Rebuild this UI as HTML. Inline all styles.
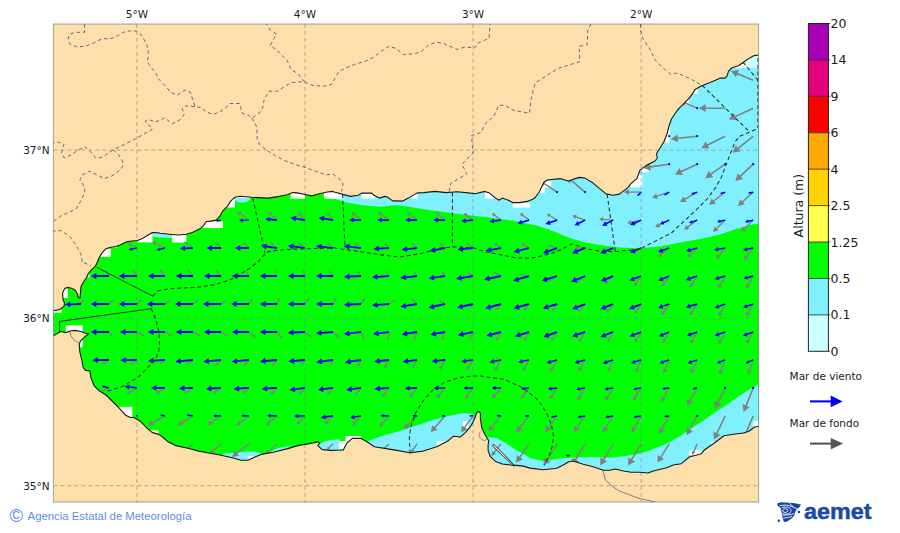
<!DOCTYPE html><html><head><meta charset="utf-8"><style>html,body{margin:0;padding:0;background:#fff;width:900px;height:533px;overflow:hidden}svg{display:block}</style></head><body>
<svg width="900" height="533" viewBox="0 0 900 533" font-family="DejaVu Sans, Liberation Sans, sans-serif">
<defs><clipPath id="mc"><rect x="53.4" y="24.0" width="705.2" height="478.1"/></clipPath></defs>
<g clip-path="url(#mc)">
<rect x="53.4" y="24.0" width="705.2" height="478.1" fill="#FDDFAB"/>
<polygon points="53.4,310.8 58.4,309.9 61.3,308.5 64.1,306.1 64.5,302.8 63.1,300.0 62.7,295.3 62.7,292.5 65.0,288.3 67.4,287.4 71.6,288.3 75.3,290.2 77.2,293.5 78.6,297.7 80.0,298.1 80.5,292.5 81.0,286.4 83.3,282.2 86.6,277.5 88.3,273.5 91.6,269.6 95.3,266.3 97.2,262.5 99.1,257.8 101.9,253.1 105.6,248.9 109.4,247.5 116.0,246.6 120.6,244.7 126.3,241.9 131.9,241.0 137.5,240.5 141.3,239.1 146.9,235.8 152.5,232.5 158.2,232.7 160.0,233.3 169.4,234.2 178.8,235.0 186.3,234.2 192.8,232.3 200.3,228.6 203.2,225.8 206.4,221.5 210.7,221.1 216.3,220.1 220.0,215.9 222.9,210.8 227.5,206.1 231.3,200.4 235.0,197.2 240.0,196.3 251.7,197.3 268.3,198.1 279.4,196.4 287.2,194.8 292.8,192.6 297.2,192.9 303.9,194.2 311.7,195.9 319.4,193.7 327.2,192.0 332.8,191.4 335.0,192.2 342.8,194.4 350.6,196.4 358.3,195.3 361.7,193.1 371.7,193.1 373.9,195.3 379.4,198.1 385.0,196.4 387.2,197.0 392.8,200.9 402.8,201.1 408.3,198.1 417.2,192.9 423.9,192.6 435.0,191.4 446.1,192.6 457.2,191.8 468.3,192.9 475.0,193.7 485.0,191.4 489.4,193.1 495.0,197.6 498.9,200.3 502.2,198.1 507.2,199.8 512.8,202.6 519.4,202.6 527.2,201.4 532.8,199.2 535.0,197.8 539.4,191.7 543.9,182.2 547.2,180.0 557.2,178.9 561.7,178.9 568.3,181.1 572.8,179.4 579.4,177.4 585.0,178.1 592.8,182.8 599.4,188.3 606.1,193.9 612.8,195.2 619.4,194.1 623.9,190.6 627.5,188.0 631.0,183.6 637.0,178.3 640.0,170.1 646.0,165.6 655.0,161.0 657.3,158.0 656.5,153.5 659.5,149.0 664.0,141.5 667.0,134.0 669.3,125.0 671.5,119.0 674.5,114.5 677.5,110.0 680.0,107.4 684.5,102.9 689.0,98.4 692.4,93.9 695.2,89.4 700.2,86.6 707.0,83.7 713.7,80.9 720.5,78.1 725.0,78.1 727.2,75.9 728.4,71.4 731.7,68.0 738.5,65.7 744.1,61.8 749.7,57.9 754.2,55.6 759.0,55.0 759.6,55.5 759.6,425.3 759.0,426.3 754.7,427.0 749.3,431.0 744.0,433.0 733.3,434.3 724.0,435.7 713.3,443.7 704.0,450.3 701.3,453.7 689.3,457.0 681.3,463.7 673.3,465.0 666.7,467.7 653.3,471.0 648.0,473.0 640.0,472.3 631.3,472.3 623.3,471.0 615.3,469.0 610.0,470.3 603.3,470.3 594.0,467.0 583.3,464.3 572.7,461.0 568.7,461.7 563.3,465.0 556.7,468.3 543.3,469.7 530.0,468.1 523.3,466.1 516.3,465.4 510.6,465.0 502.2,464.0 495.2,461.2 490.2,456.3 488.1,450.6 488.1,445.0 488.8,440.8 485.3,435.2 481.8,428.1 480.4,418.3 480.4,414.1 479.9,412.3 478.6,411.6 477.2,412.3 476.2,414.1 474.8,418.3 471.3,425.3 465.6,432.3 460.0,437.3 458.9,436.7 453.3,436.2 447.8,441.1 436.7,446.7 423.3,451.1 410.0,452.7 396.7,450.4 387.8,448.9 374.4,446.7 367.8,442.2 361.1,438.4 352.2,438.4 346.7,443.3 343.3,450.0 331.1,450.4 322.2,449.6 317.8,445.6 319.6,443.3 317.8,441.6 313.3,442.9 297.8,445.6 286.7,448.9 273.3,452.2 261.1,454.4 254.4,457.2 247.8,460.3 241.1,460.3 232.2,457.8 221.1,455.2 210.0,453.3 198.9,451.1 187.8,448.3 175.6,445.6 167.8,441.7 162.0,436.5 158.6,434.4 152.0,432.4 146.8,427.8 140.2,421.2 134.9,418.0 129.7,417.3 125.7,415.3 119.2,408.1 112.6,401.5 106.0,395.0 99.5,391.0 94.2,385.8 90.9,377.9 89.9,370.9 85.4,370.4 83.2,367.5 82.0,360.8 79.8,351.8 79.2,345.0 80.3,341.1 83.2,338.3 86.5,335.5 88.8,333.8 85.4,333.2 80.9,331.5 75.3,330.4 69.6,331.0 66.3,332.6 64.0,332.1 60.6,331.5 55.0,334.9 53.4,336.1 52.4,336.1 52.4,310.5" fill="#00FF00"/>
<clipPath id="sc"><polygon points="53.4,310.8 58.4,309.9 61.3,308.5 64.1,306.1 64.5,302.8 63.1,300.0 62.7,295.3 62.7,292.5 65.0,288.3 67.4,287.4 71.6,288.3 75.3,290.2 77.2,293.5 78.6,297.7 80.0,298.1 80.5,292.5 81.0,286.4 83.3,282.2 86.6,277.5 88.3,273.5 91.6,269.6 95.3,266.3 97.2,262.5 99.1,257.8 101.9,253.1 105.6,248.9 109.4,247.5 116.0,246.6 120.6,244.7 126.3,241.9 131.9,241.0 137.5,240.5 141.3,239.1 146.9,235.8 152.5,232.5 158.2,232.7 160.0,233.3 169.4,234.2 178.8,235.0 186.3,234.2 192.8,232.3 200.3,228.6 203.2,225.8 206.4,221.5 210.7,221.1 216.3,220.1 220.0,215.9 222.9,210.8 227.5,206.1 231.3,200.4 235.0,197.2 240.0,196.3 251.7,197.3 268.3,198.1 279.4,196.4 287.2,194.8 292.8,192.6 297.2,192.9 303.9,194.2 311.7,195.9 319.4,193.7 327.2,192.0 332.8,191.4 335.0,192.2 342.8,194.4 350.6,196.4 358.3,195.3 361.7,193.1 371.7,193.1 373.9,195.3 379.4,198.1 385.0,196.4 387.2,197.0 392.8,200.9 402.8,201.1 408.3,198.1 417.2,192.9 423.9,192.6 435.0,191.4 446.1,192.6 457.2,191.8 468.3,192.9 475.0,193.7 485.0,191.4 489.4,193.1 495.0,197.6 498.9,200.3 502.2,198.1 507.2,199.8 512.8,202.6 519.4,202.6 527.2,201.4 532.8,199.2 535.0,197.8 539.4,191.7 543.9,182.2 547.2,180.0 557.2,178.9 561.7,178.9 568.3,181.1 572.8,179.4 579.4,177.4 585.0,178.1 592.8,182.8 599.4,188.3 606.1,193.9 612.8,195.2 619.4,194.1 623.9,190.6 627.5,188.0 631.0,183.6 637.0,178.3 640.0,170.1 646.0,165.6 655.0,161.0 657.3,158.0 656.5,153.5 659.5,149.0 664.0,141.5 667.0,134.0 669.3,125.0 671.5,119.0 674.5,114.5 677.5,110.0 680.0,107.4 684.5,102.9 689.0,98.4 692.4,93.9 695.2,89.4 700.2,86.6 707.0,83.7 713.7,80.9 720.5,78.1 725.0,78.1 727.2,75.9 728.4,71.4 731.7,68.0 738.5,65.7 744.1,61.8 749.7,57.9 754.2,55.6 759.0,55.0 759.6,55.5 759.6,425.3 759.0,426.3 754.7,427.0 749.3,431.0 744.0,433.0 733.3,434.3 724.0,435.7 713.3,443.7 704.0,450.3 701.3,453.7 689.3,457.0 681.3,463.7 673.3,465.0 666.7,467.7 653.3,471.0 648.0,473.0 640.0,472.3 631.3,472.3 623.3,471.0 615.3,469.0 610.0,470.3 603.3,470.3 594.0,467.0 583.3,464.3 572.7,461.0 568.7,461.7 563.3,465.0 556.7,468.3 543.3,469.7 530.0,468.1 523.3,466.1 516.3,465.4 510.6,465.0 502.2,464.0 495.2,461.2 490.2,456.3 488.1,450.6 488.1,445.0 488.8,440.8 485.3,435.2 481.8,428.1 480.4,418.3 480.4,414.1 479.9,412.3 478.6,411.6 477.2,412.3 476.2,414.1 474.8,418.3 471.3,425.3 465.6,432.3 460.0,437.3 458.9,436.7 453.3,436.2 447.8,441.1 436.7,446.7 423.3,451.1 410.0,452.7 396.7,450.4 387.8,448.9 374.4,446.7 367.8,442.2 361.1,438.4 352.2,438.4 346.7,443.3 343.3,450.0 331.1,450.4 322.2,449.6 317.8,445.6 319.6,443.3 317.8,441.6 313.3,442.9 297.8,445.6 286.7,448.9 273.3,452.2 261.1,454.4 254.4,457.2 247.8,460.3 241.1,460.3 232.2,457.8 221.1,455.2 210.0,453.3 198.9,451.1 187.8,448.3 175.6,445.6 167.8,441.7 162.0,436.5 158.6,434.4 152.0,432.4 146.8,427.8 140.2,421.2 134.9,418.0 129.7,417.3 125.7,415.3 119.2,408.1 112.6,401.5 106.0,395.0 99.5,391.0 94.2,385.8 90.9,377.9 89.9,370.9 85.4,370.4 83.2,367.5 82.0,360.8 79.8,351.8 79.2,345.0 80.3,341.1 83.2,338.3 86.5,335.5 88.8,333.8 85.4,333.2 80.9,331.5 75.3,330.4 69.6,331.0 66.3,332.6 64.0,332.1 60.6,331.5 55.0,334.9 53.4,336.1 52.4,336.1 52.4,310.5"/></clipPath>
<g clip-path="url(#sc)">
<polygon points="333.0,180.0 333.0,30.0 759.0,30.0 759.0,223.6 750.0,225.0 736.0,229.0 720.0,234.4 700.0,239.0 680.0,242.6 660.0,246.6 640.0,248.3 620.0,247.6 611.1,246.5 600.0,245.0 586.7,242.8 569.6,237.9 554.9,231.8 537.8,225.7 513.3,220.8 488.9,217.6 464.4,214.7 440.0,211.5 423.9,209.2 407.2,206.4 396.1,205.3 379.4,206.7 362.8,205.3 346.1,202.6 335.0,198.7 333.0,196.0" fill="#80F0FF"/>
<polygon points="745.2,50 759,50 759,68 745.2,68" fill="#CCFFFF"/>
<path d="M235,198 L250.5,198 C249,201.5 246,202.6 242,202.6 C238,202.6 236,201.5 235,200 Z" fill="#80F0FF"/>
<polygon points="152.5,231 172,231 172.2,238 160,237.5 152.5,236.7" fill="#80F0FF"/>
<polygon points="221.0,455.5 222.2,454.4 226.7,453.3 237.8,452.8 247.8,451.4 255.6,451.7 262.0,454.0 262.0,475.0 219.0,475.0" fill="#80F0FF"/>
<polygon points="270.0,452.0 278.0,448.0 287.0,446.5 293.0,447.0 293.0,475.0 270.0,475.0" fill="#80F0FF"/>
<polygon points="318.0,445.0 324.4,441.6 331.1,440.0 340.0,439.3 340.0,475.0 318.0,475.0" fill="#80F0FF"/>
<polygon points="365.0,442.5 367.8,441.0 385.0,435.0 400.0,431.0 416.9,425.3 433.8,419.8 450.6,415.6 464.1,413.0 472.6,413.9 477.0,430.0 477.0,475.0 365.0,475.0" fill="#80F0FF"/>
<polygon points="484.0,436.5 486.7,437.3 496.6,438.0 506.4,443.6 516.3,449.9 527.5,456.3 530.0,458.3 543.3,461.0 556.7,459.0 570.0,457.7 590.0,457.0 610.0,457.7 623.3,456.3 636.7,454.3 646.0,451.7 653.3,449.0 666.7,443.7 680.0,436.3 691.2,428.5 702.5,421.2 713.7,413.3 725.0,406.0 736.2,398.1 747.5,390.8 759.0,384.0 759.0,480.0 483.0,480.0" fill="#80F0FF"/>
<rect x="53" y="309.5" width="8.7" height="3.2" fill="#fff"/>
<rect x="63.1" y="288.3" width="4.7" height="9.8" fill="#fff"/>
<rect x="87.5" y="274.5" width="2.2" height="3" fill="#fff"/>
<rect x="98" y="248.9" width="12.8" height="8" fill="#fff"/>
<rect x="111.3" y="246.3" width="5.6" height="1.7" fill="#fff"/>
<rect x="137.5" y="234" width="15" height="8.4" fill="#fff"/>
<rect x="172.2" y="235" width="14.1" height="7.6" fill="#fff"/>
<rect x="200.5" y="221.3" width="22.4" height="6.8" fill="#fff"/>
<rect x="222" y="199" width="13" height="8.5" fill="#fff"/>
<rect x="235" y="196" width="15.5" height="2" fill="#fff"/>
<rect x="290.6" y="192.5" width="14.4" height="6.2" fill="#fff"/>
<rect x="323.9" y="192" width="11.1" height="6.7" fill="#fff"/>
<rect x="333" y="192.5" width="9.8" height="6.2" fill="#fff"/>
<rect x="361.7" y="193.5" width="13.3" height="5.2" fill="#fff"/>
<rect x="411.7" y="194.5" width="6.1" height="4.2" fill="#fff"/>
<rect x="485" y="192.3" width="8.9" height="6.4" fill="#fff"/>
<rect x="512.8" y="203.2" width="17.2" height="4.4" fill="#fff"/>
<rect x="544" y="181" width="7.2" height="6.2" fill="#fff"/>
<rect x="539.5" y="186" width="5.5" height="6.8" fill="#fff"/>
<rect x="630.6" y="181.7" width="4.4" height="5" fill="#fff"/>
<rect x="631" y="174.6" width="11.3" height="12.7" fill="#fff"/>
<rect x="641.5" y="167" width="7.5" height="5.3" fill="#fff"/>
<rect x="665.5" y="126.5" width="4.5" height="16.5" fill="#fff"/>
<rect x="691" y="88" width="7" height="6" fill="#fff"/>
<rect x="684.5" y="97" width="4.5" height="8" fill="#fff"/>
<rect x="732.9" y="64" width="12.3" height="4" fill="#fff"/>
<rect x="65.7" y="325.3" width="16.9" height="6.8" fill="#fff"/>
<rect x="79.8" y="332" width="2.8" height="15.3" fill="#fff"/>
<rect x="119.2" y="406.8" width="13.1" height="9.8" fill="#fff"/>
<rect x="150.7" y="430.4" width="7.9" height="4" fill="#fff"/>
<rect x="339" y="441" width="8" height="8" fill="#fff"/>
<rect x="345.6" y="436" width="15.5" height="5.1" fill="#fff"/>
<rect x="436.7" y="441" width="11" height="4.6" fill="#fff"/>
<rect x="462.8" y="421" width="5.6" height="7" fill="#fff"/>
<rect x="689.3" y="450.3" width="12.7" height="4.7" fill="#fff"/>
<rect x="710.7" y="441.7" width="4" height="2" fill="#fff"/>
<rect x="753.3" y="421" width="5" height="5.3" fill="#fff"/>
<rect x="247.8" y="456" width="5.5" height="3" fill="#fff"/>
<g fill="#808080"><polygon points="753.5,79.5 737.7,73.0 738.9,70.1 730.9,71.1 735.9,77.3 737.1,74.5 752.9,81.0"/><polygon points="697.4,107.6 686.1,102.6 687.0,100.7 681.2,101.2 684.7,105.9 685.6,103.9 696.9,108.8"/><polygon points="725.2,107.4 705.7,107.4 705.7,104.3 698.7,108.2 705.7,112.1 705.7,109.0 725.2,109.0"/><polygon points="752.9,107.5 734.8,115.9 733.5,113.0 728.8,119.5 736.8,120.1 735.5,117.3 753.5,108.9"/><polygon points="697.1,135.4 677.7,137.5 677.4,134.4 670.9,139.1 678.3,142.2 677.9,139.1 697.3,137.0"/><polygon points="724.8,135.5 707.2,144.3 705.8,141.6 701.3,148.2 709.3,148.5 707.9,145.8 725.5,136.9"/><polygon points="752.7,135.6 737.7,147.7 735.7,145.3 732.7,152.7 740.6,151.3 738.7,148.9 753.7,136.8"/><polygon points="669.0,163.4 650.3,166.1 649.8,163.0 643.5,167.9 650.9,170.7 650.5,167.7 669.3,165.0"/><polygon points="696.8,163.4 680.9,170.7 679.6,167.9 674.9,174.4 682.9,175.0 681.6,172.2 697.5,164.9"/><polygon points="724.7,163.5 710.5,173.5 708.7,171.0 705.2,178.2 713.2,177.3 711.4,174.8 725.6,164.8"/><polygon points="752.7,163.6 739.9,175.6 737.7,173.3 735.3,181.0 743.1,179.0 741.0,176.8 753.7,164.7"/><polygon points="557.5,191.5 544.8,183.0 546.3,180.7 539.1,180.1 542.4,186.6 544.0,184.2 556.7,192.7"/><polygon points="585.6,191.5 572.0,180.0 574.0,177.7 566.1,176.1 569.0,183.6 571.0,181.3 584.6,192.7"/><polygon points="641.1,191.5 628.9,191.5 628.9,189.3 623.9,192.1 628.9,194.9 628.9,192.8 641.1,192.8"/><polygon points="669.0,191.5 656.8,195.5 656.1,193.3 652.0,197.7 657.9,198.9 657.2,196.7 669.4,192.8"/><polygon points="696.8,191.5 684.6,198.6 683.4,196.4 680.0,202.1 686.6,202.0 685.3,199.8 697.5,192.7"/><polygon points="724.8,191.6 713.3,200.5 711.7,198.4 709.0,204.7 715.8,203.7 714.1,201.6 725.6,192.7"/><polygon points="752.7,191.6 742.0,201.4 740.2,199.4 738.0,205.9 744.7,204.4 742.9,202.4 753.7,192.6"/><polygon points="249.4,219.6 240.9,213.3 241.9,211.9 237.0,211.3 239.0,215.8 240.1,214.4 248.6,220.6"/><polygon points="277.5,219.6 271.2,213.7 272.1,212.7 268.2,211.7 269.4,215.6 270.3,214.6 276.5,220.6"/><polygon points="305.5,219.7 300.6,214.0 301.3,213.3 298.0,212.1 298.7,215.6 299.5,214.9 304.5,220.5"/><polygon points="333.6,219.7 329.3,214.0 330.1,213.5 327.0,212.1 327.5,215.4 328.2,214.8 332.5,220.5"/><polygon points="361.5,219.6 354.7,213.9 355.6,212.9 351.5,212.1 353.0,216.0 353.9,215.0 360.6,220.6"/><polygon points="389.4,219.6 381.8,213.9 382.7,212.7 378.2,212.1 380.1,216.2 381.0,215.0 388.6,220.6"/><polygon points="417.5,219.6 410.0,213.9 410.9,212.7 406.6,212.1 408.3,216.1 409.2,215.0 416.6,220.6"/><polygon points="445.5,219.6 438.9,213.9 439.8,212.9 435.8,212.1 437.2,215.9 438.0,214.9 444.6,220.6"/><polygon points="473.5,219.6 466.7,214.6 467.5,213.6 463.6,213.1 465.2,216.7 465.9,215.7 472.7,220.6"/><polygon points="501.5,219.6 494.9,214.6 495.6,213.6 491.8,213.1 493.4,216.7 494.1,215.7 500.7,220.6"/><polygon points="529.5,219.6 522.9,214.6 523.7,213.6 519.8,213.1 521.4,216.7 522.1,215.7 528.7,220.6"/><polygon points="557.5,219.5 550.0,215.0 550.7,213.9 546.6,213.7 548.6,217.3 549.3,216.1 556.8,220.7"/><polygon points="585.4,219.5 576.1,216.2 576.7,214.7 572.1,215.5 575.2,219.0 575.7,217.5 584.9,220.7"/><polygon points="613.2,219.4 603.3,218.7 603.4,217.1 599.1,219.1 603.1,221.7 603.2,220.1 613.1,220.8"/><polygon points="641.0,219.4 631.1,221.6 630.7,220.0 627.1,223.1 631.7,224.5 631.4,222.9 641.3,220.8"/><polygon points="668.9,219.5 658.8,224.4 658.0,222.8 655.0,227.1 660.2,227.4 659.4,225.7 669.5,220.7"/><polygon points="696.8,219.6 687.4,226.4 686.3,224.8 684.0,229.7 689.4,229.0 688.2,227.4 697.6,220.6"/><polygon points="724.7,219.6 716.1,228.1 714.6,226.6 713.0,232.1 718.5,230.6 717.0,229.1 725.7,220.6"/><polygon points="752.7,219.6 744.1,228.1 742.6,226.6 741.0,232.1 746.5,230.6 745.0,229.1 753.7,220.6"/><polygon points="137.2,247.5 130.5,244.0 131.0,243.1 127.4,243.2 129.4,246.1 129.9,245.2 136.6,248.7"/><polygon points="165.2,247.5 156.0,242.9 156.8,241.4 151.9,241.6 154.7,245.6 155.4,244.1 164.6,248.7"/><polygon points="193.3,247.5 187.0,242.9 187.6,242.0 183.9,241.6 185.5,244.9 186.2,244.0 192.6,248.6"/><polygon points="221.4,247.6 217.2,243.3 217.7,242.8 215.0,242.1 215.7,244.8 216.2,244.3 220.5,248.6"/><polygon points="249.5,247.6 245.2,243.3 245.7,242.8 243.0,242.1 243.8,244.8 244.2,244.3 248.5,248.6"/><polygon points="277.4,247.5 272.5,243.6 272.9,243.0 270.0,242.5 271.1,245.2 271.6,244.6 276.6,248.6"/><polygon points="305.4,247.5 300.5,243.6 301.0,243.0 298.0,242.5 299.1,245.2 299.6,244.6 304.6,248.6"/><polygon points="333.5,247.6 329.2,243.6 329.7,243.1 327.0,242.5 327.9,245.1 328.3,244.6 332.5,248.6"/><polygon points="361.5,247.6 357.2,243.6 357.7,243.1 355.0,242.5 355.9,245.1 356.3,244.6 360.6,248.6"/><polygon points="389.6,247.6 386.3,243.7 386.7,243.4 384.4,242.5 384.9,244.9 385.3,244.5 388.5,248.5"/><polygon points="417.5,247.6 413.6,243.6 414.0,243.2 411.4,242.5 412.2,245.0 412.6,244.6 416.6,248.6"/><polygon points="445.5,247.6 441.6,243.6 442.0,243.2 439.5,242.5 440.2,245.0 440.6,244.6 444.6,248.6"/><polygon points="473.5,247.5 468.5,244.0 468.9,243.4 466.1,243.1 467.3,245.7 467.7,245.1 472.7,248.6"/><polygon points="501.5,247.5 496.5,244.0 496.9,243.4 494.1,243.1 495.3,245.7 495.7,245.1 500.7,248.6"/><polygon points="529.4,247.5 523.8,244.2 524.2,243.5 521.1,243.5 522.7,246.1 523.1,245.4 528.8,248.7"/><polygon points="557.3,247.4 550.7,245.5 551.0,244.6 547.8,245.4 550.1,247.7 550.3,246.8 556.9,248.7"/><polygon points="585.1,247.4 577.7,247.4 577.7,246.4 574.6,248.1 577.7,249.8 577.7,248.8 585.1,248.8"/><polygon points="613.0,247.4 605.9,249.3 605.6,248.4 603.1,250.8 606.5,251.6 606.2,250.6 613.3,248.7"/><polygon points="640.7,247.5 635.1,251.8 634.5,251.0 633.1,254.1 636.5,253.6 635.9,252.9 641.6,248.6"/><polygon points="668.7,247.5 660.8,253.9 659.8,252.6 658.0,257.1 662.7,256.3 661.7,255.0 669.6,248.6"/><polygon points="696.7,247.6 689.5,254.7 688.3,253.5 687.0,258.1 691.6,256.8 690.4,255.6 697.7,248.6"/><polygon points="724.7,247.6 718.1,255.4 716.9,254.4 716.0,259.1 720.5,257.4 719.2,256.3 725.7,248.5"/><polygon points="752.7,247.7 746.1,256.2 744.7,255.1 744.0,260.1 748.6,258.1 747.2,257.0 753.7,248.5"/><polygon points="109.5,275.7 107.0,271.4 107.4,271.2 105.4,270.0 105.5,272.4 105.8,272.1 108.3,276.4"/><polygon points="137.5,275.6 134.2,271.4 134.6,271.0 132.3,270.0 132.7,272.5 133.1,272.2 136.4,276.5"/><polygon points="165.5,275.6 161.9,271.2 162.4,270.8 159.9,269.7 160.4,272.4 160.9,272.0 164.4,276.5"/><polygon points="193.5,275.6 189.9,271.4 190.4,271.0 187.9,270.0 188.4,272.6 188.9,272.2 192.4,276.5"/><polygon points="221.5,275.6 217.9,271.4 218.4,271.0 216.0,270.0 216.4,272.6 216.9,272.2 220.4,276.5"/><polygon points="249.5,275.7 246.9,271.7 247.3,271.5 245.3,270.4 245.4,272.7 245.8,272.4 248.4,276.4"/><polygon points="277.6,275.8 275.9,271.5 276.3,271.4 274.6,270.0 274.3,272.2 274.7,272.0 276.4,276.3"/><polygon points="305.6,275.8 304.1,271.6 304.5,271.4 302.8,270.0 302.4,272.2 302.8,272.0 304.4,276.3"/><polygon points="333.6,275.7 331.2,271.5 331.6,271.2 329.6,270.0 329.6,272.3 330.0,272.1 332.4,276.4"/><polygon points="361.6,275.7 359.2,271.9 359.5,271.6 357.6,270.6 357.7,272.8 358.0,272.6 360.4,276.4"/><polygon points="389.6,275.7 387.2,271.9 387.5,271.6 385.6,270.6 385.7,272.8 386.1,272.6 388.5,276.4"/><polygon points="417.6,275.7 415.4,271.9 415.7,271.7 413.9,270.6 413.8,272.8 414.2,272.6 416.5,276.4"/><polygon points="445.6,275.7 443.4,272.1 443.7,271.9 441.9,271.0 441.9,273.1 442.2,272.9 444.5,276.4"/><polygon points="473.5,275.5 468.9,271.9 469.3,271.4 466.6,270.9 467.6,273.5 468.1,273.0 472.7,276.6"/><polygon points="501.4,275.4 496.0,272.5 496.3,271.8 493.4,271.8 495.0,274.3 495.3,273.7 500.8,276.6"/><polygon points="529.2,275.4 522.9,274.5 523.0,273.7 520.2,274.8 522.6,276.6 522.7,275.9 529.0,276.7"/><polygon points="556.8,275.4 550.5,279.0 550.0,278.1 548.2,281.0 551.6,281.0 551.1,280.2 557.4,276.6"/><polygon points="584.7,275.5 578.4,280.1 577.8,279.2 576.2,282.5 579.9,282.1 579.2,281.2 585.5,276.6"/><polygon points="612.7,275.5 606.4,281.3 605.5,280.4 604.2,284.2 608.2,283.3 607.3,282.3 613.6,276.5"/><polygon points="640.6,275.6 635.5,282.7 634.4,282.0 633.9,286.0 637.7,284.3 636.6,283.5 641.7,276.4"/><polygon points="668.6,275.7 663.6,283.1 662.4,282.3 662.1,286.5 665.8,284.6 664.7,283.9 669.7,276.4"/><polygon points="696.6,275.7 691.2,284.0 689.9,283.2 689.6,287.8 693.7,285.6 692.4,284.8 697.7,276.4"/><polygon points="724.6,275.7 719.4,284.6 717.9,283.8 717.8,288.6 722.0,286.2 720.5,285.3 725.8,276.4"/><polygon points="752.6,275.7 747.6,284.6 746.1,283.8 746.1,288.6 750.2,286.1 748.8,285.3 753.8,276.4"/><polygon points="81.5,304.4 83.6,301.3 83.9,301.5 83.9,299.6 82.1,300.3 82.5,300.5 80.3,303.6"/><polygon points="109.4,304.5 112.6,301.5 112.9,301.8 113.5,299.8 111.4,300.2 111.7,300.5 108.5,303.5"/><polygon points="137.4,304.5 140.5,301.4 140.8,301.7 141.3,299.6 139.3,300.1 139.6,300.4 136.4,303.5"/><polygon points="165.4,304.5 168.9,301.4 169.2,301.7 169.9,299.6 167.8,300.1 168.0,300.4 164.5,303.5"/><polygon points="193.4,304.5 196.9,301.4 197.2,301.7 197.9,299.6 195.8,300.1 196.0,300.4 192.5,303.5"/><polygon points="221.4,304.5 225.0,301.4 225.2,301.7 226.0,299.6 223.8,300.1 224.1,300.4 220.5,303.5"/><polygon points="249.5,304.4 252.3,300.9 252.7,301.1 253.0,299.0 251.0,299.8 251.3,300.0 248.4,303.6"/><polygon points="277.6,304.2 279.3,299.6 279.8,299.7 279.4,297.4 277.6,298.9 278.0,299.1 276.3,303.8"/><polygon points="305.5,304.4 308.8,300.2 309.2,300.6 309.6,298.1 307.3,299.1 307.7,299.4 304.5,303.6"/><polygon points="333.6,304.4 336.4,299.7 336.8,300.0 336.9,297.4 334.7,298.7 335.2,299.0 332.4,303.7"/><polygon points="361.6,304.4 364.7,299.7 365.2,300.0 365.4,297.4 363.1,298.6 363.6,299.0 360.5,303.6"/><polygon points="389.4,304.6 393.9,301.6 394.3,302.1 395.4,299.8 392.9,300.0 393.2,300.5 388.7,303.4"/><polygon points="417.5,303.5 413.6,299.7 414.0,299.3 411.4,298.6 412.2,301.1 412.6,300.7 416.6,304.5"/><polygon points="445.4,303.4 440.9,300.5 441.2,300.0 438.7,299.8 439.8,302.1 440.2,301.6 444.7,304.6"/><polygon points="472.6,303.6 469.7,306.7 469.4,306.4 469.1,308.4 471.0,307.9 470.7,307.6 473.6,304.5"/><polygon points="500.6,303.6 496.6,307.9 496.1,307.4 495.5,310.1 498.1,309.2 497.6,308.8 501.6,304.5"/><polygon points="528.6,303.6 524.6,308.4 524.0,307.9 523.5,310.8 526.2,309.7 525.7,309.3 529.6,304.4"/><polygon points="556.6,303.6 552.6,309.0 551.9,308.5 551.5,311.6 554.4,310.3 553.7,309.8 557.7,304.4"/><polygon points="584.6,303.6 579.8,308.9 579.1,308.3 578.3,311.6 581.5,310.5 580.8,309.8 585.6,304.5"/><polygon points="612.6,303.6 607.9,309.7 607.1,309.0 606.5,312.6 609.9,311.2 609.0,310.5 613.7,304.4"/><polygon points="640.6,303.6 635.9,310.4 634.9,309.7 634.5,313.6 638.0,311.9 637.0,311.2 641.7,304.4"/><polygon points="668.6,303.6 663.2,311.6 661.9,310.8 661.6,315.3 665.6,313.2 664.3,312.4 669.7,304.4"/><polygon points="696.6,303.6 691.2,312.0 689.9,311.1 689.6,315.8 693.7,313.6 692.4,312.7 697.7,304.4"/><polygon points="724.6,303.7 719.9,312.6 718.5,311.9 718.6,316.6 722.6,314.0 721.1,313.3 725.8,304.3"/><polygon points="752.6,303.7 747.6,312.6 746.1,311.8 746.1,316.6 750.2,314.1 748.8,313.3 753.8,304.3"/><polygon points="108.3,332.4 111.2,336.6 110.8,336.9 112.9,338.0 112.7,335.6 112.3,335.9 109.5,331.6"/><polygon points="136.6,332.6 141.9,335.4 141.6,336.0 144.4,336.0 142.9,333.6 142.6,334.2 137.2,331.4"/><polygon points="164.6,332.6 169.9,335.4 169.6,336.0 172.4,336.0 170.9,333.6 170.6,334.2 165.3,331.4"/><polygon points="192.6,332.6 197.9,335.4 197.6,336.0 200.4,336.0 198.9,333.6 198.6,334.2 193.3,331.4"/><polygon points="220.6,332.6 225.9,335.8 225.5,336.4 228.5,336.5 227.0,333.9 226.6,334.6 221.3,331.4"/><polygon points="248.5,332.5 253.0,336.6 252.5,337.1 255.3,337.8 254.4,335.1 253.9,335.6 249.4,331.5"/><polygon points="276.5,332.4 280.3,337.0 279.8,337.4 282.4,338.4 281.9,335.6 281.3,336.1 277.5,331.5"/><polygon points="304.6,332.5 309.1,336.5 308.6,337.0 311.4,337.6 310.4,334.9 310.0,335.4 305.4,331.5"/><polygon points="332.5,332.5 337.1,336.8 336.6,337.3 339.4,338.1 338.5,335.3 338.0,335.8 333.5,331.5"/><polygon points="360.4,332.2 362.8,338.0 362.1,338.3 364.4,340.1 364.7,337.2 364.1,337.5 361.7,331.7"/><polygon points="388.4,331.9 387.7,338.1 386.9,338.1 388.0,340.8 389.8,338.4 389.0,338.3 389.7,332.1"/><polygon points="416.4,331.7 414.1,338.0 413.4,337.7 413.9,340.8 416.2,338.7 415.4,338.4 417.7,332.2"/><polygon points="444.4,331.7 441.7,337.9 440.9,337.6 441.2,340.8 443.7,338.8 442.9,338.5 445.7,332.3"/><polygon points="472.5,331.7 469.7,337.4 469.0,337.1 469.2,340.1 471.6,338.4 470.9,338.0 473.7,332.3"/><polygon points="500.5,331.6 497.0,337.9 496.2,337.4 496.2,340.8 499.0,339.0 498.2,338.5 501.7,332.3"/><polygon points="528.5,331.7 524.9,338.2 524.0,337.7 524.0,341.3 527.0,339.4 526.1,338.9 529.7,332.3"/><polygon points="556.5,331.6 552.6,338.2 551.6,337.7 551.5,341.3 554.7,339.5 553.7,338.9 557.7,332.3"/><polygon points="584.5,331.6 580.2,338.6 579.2,337.9 579.0,341.8 582.4,339.9 581.4,339.3 585.7,332.3"/><polygon points="612.5,331.7 608.7,338.6 607.7,338.0 607.7,341.8 610.9,339.8 609.9,339.2 613.7,332.3"/><polygon points="640.6,331.6 636.2,339.1 635.0,338.5 634.9,342.6 638.5,340.5 637.3,339.8 641.7,332.3"/><polygon points="668.6,331.6 663.6,339.8 662.2,339.0 662.1,343.6 666.0,341.4 664.7,340.6 669.7,332.3"/><polygon points="696.6,331.6 691.8,340.2 690.4,339.4 690.4,344.1 694.3,341.7 693.0,340.9 697.8,332.3"/><polygon points="724.6,331.7 719.9,340.2 718.5,339.5 718.6,344.1 722.5,341.6 721.1,340.9 725.8,332.3"/><polygon points="752.6,331.6 747.6,340.2 746.2,339.4 746.1,344.1 750.1,341.7 748.8,340.9 753.8,332.3"/><polygon points="108.6,359.4 103.7,362.3 103.4,361.8 102.1,364.2 104.8,364.0 104.5,363.5 109.3,360.5"/><polygon points="136.5,359.4 131.7,362.6 131.4,362.1 130.1,364.6 132.9,364.3 132.5,363.8 137.3,360.5"/><polygon points="164.5,359.4 160.7,362.7 160.4,362.3 159.5,364.6 161.9,364.1 161.6,363.7 165.4,360.5"/><polygon points="192.5,359.4 187.9,363.0 187.4,362.5 186.3,365.1 189.1,364.6 188.7,364.1 193.4,360.5"/><polygon points="220.5,359.5 216.6,363.7 216.2,363.3 215.6,365.9 218.1,365.0 217.6,364.6 221.5,360.4"/><polygon points="248.5,359.5 244.8,363.7 244.4,363.3 243.9,365.9 246.3,365.0 245.9,364.6 249.5,360.4"/><polygon points="276.4,359.5 273.0,364.1 272.5,363.7 272.1,366.4 274.6,365.3 274.1,364.9 277.5,360.4"/><polygon points="304.5,359.5 301.3,363.8 300.8,363.5 300.5,366.0 302.8,364.9 302.4,364.6 305.5,360.4"/><polygon points="332.4,359.7 330.1,364.3 329.7,364.1 329.8,366.6 331.8,365.1 331.4,364.9 333.6,360.2"/><polygon points="360.4,359.7 358.1,364.8 357.5,364.5 357.7,367.2 359.9,365.6 359.3,365.3 361.6,360.2"/><polygon points="388.4,359.6 385.1,365.6 384.3,365.2 384.3,368.5 387.1,366.7 386.3,366.3 389.6,360.3"/><polygon points="416.4,359.6 413.1,366.2 412.2,365.7 412.4,369.2 415.2,367.2 414.3,366.8 417.7,360.3"/><polygon points="444.5,359.6 440.4,366.6 439.4,366.0 439.4,369.9 442.6,367.9 441.6,367.3 445.7,360.3"/><polygon points="472.5,359.6 467.7,366.9 466.6,366.2 466.3,370.4 469.9,368.4 468.8,367.7 473.6,360.3"/><polygon points="500.5,359.6 495.7,367.5 494.5,366.8 494.3,371.2 498.1,369.0 496.9,368.2 501.7,360.3"/><polygon points="528.5,359.6 524.2,367.6 523.0,366.9 523.0,371.2 526.6,368.9 525.4,368.2 529.7,360.3"/><polygon points="556.5,359.6 551.7,368.1 550.3,367.3 550.3,372.0 554.2,369.6 552.9,368.8 557.7,360.3"/><polygon points="584.5,359.6 579.7,368.1 578.4,367.3 578.3,372.0 582.3,369.6 580.9,368.8 585.7,360.3"/><polygon points="612.5,359.7 608.7,368.2 607.4,367.6 607.7,372.0 611.3,369.3 609.9,368.7 613.8,360.2"/><polygon points="640.5,359.7 636.6,368.5 635.2,367.9 635.5,372.5 639.2,369.7 637.8,369.1 641.8,360.2"/><polygon points="668.5,359.7 664.4,369.4 662.8,368.7 663.4,373.7 667.3,370.6 665.7,369.9 669.8,360.2"/><polygon points="696.6,359.7 692.1,369.4 690.5,368.6 690.9,373.7 694.9,370.7 693.3,369.9 697.8,360.2"/><polygon points="724.6,359.7 720.4,369.9 718.7,369.2 719.4,374.4 723.4,371.1 721.7,370.4 725.8,360.2"/><polygon points="752.6,359.7 749.0,369.9 747.3,369.3 748.2,374.4 752.0,371.0 750.3,370.4 753.8,360.2"/><polygon points="108.6,387.3 103.8,389.7 103.5,389.2 102.1,391.3 104.6,391.4 104.4,390.9 109.2,388.5"/><polygon points="136.6,387.3 129.2,391.5 128.5,390.4 126.4,393.8 130.4,393.8 129.8,392.7 137.3,388.5"/><polygon points="164.6,387.4 158.2,391.5 157.6,390.6 155.9,393.8 159.5,393.6 158.9,392.7 165.3,388.5"/><polygon points="192.6,387.4 186.2,391.5 185.6,390.6 183.9,393.8 187.5,393.6 186.9,392.7 193.3,388.5"/><polygon points="220.6,387.4 215.0,391.6 214.5,390.8 213.2,393.8 216.4,393.4 215.8,392.6 221.4,388.5"/><polygon points="248.5,387.4 244.0,391.6 243.5,391.1 242.6,393.8 245.4,393.1 244.9,392.6 249.4,388.4"/><polygon points="276.5,387.5 272.1,392.3 271.5,391.7 270.8,394.7 273.7,393.7 273.1,393.2 277.5,388.4"/><polygon points="304.5,387.5 300.3,392.5 299.7,392.0 299.1,395.0 302.0,393.9 301.3,393.4 305.5,388.4"/><polygon points="332.5,387.5 328.2,392.5 327.6,392.0 327.0,395.0 329.9,393.9 329.3,393.4 333.5,388.4"/><polygon points="360.5,387.5 356.2,393.0 355.5,392.4 355.0,395.6 358.0,394.3 357.3,393.8 361.6,388.3"/><polygon points="388.5,387.5 383.7,394.0 382.7,393.3 382.2,397.1 385.7,395.5 384.8,394.8 389.6,388.3"/><polygon points="416.5,387.5 411.1,394.2 410.1,393.4 409.4,397.4 413.2,395.9 412.2,395.1 417.6,388.3"/><polygon points="444.5,387.5 438.3,394.9 437.1,393.9 436.3,398.4 440.5,396.8 439.4,395.8 445.6,388.4"/><polygon points="472.5,387.5 466.7,395.3 465.4,394.4 464.8,398.9 469.0,397.1 467.7,396.1 473.6,388.3"/><polygon points="500.6,387.5 494.0,395.1 492.7,394.1 491.8,398.7 496.3,397.1 495.0,396.0 501.6,388.4"/><polygon points="528.6,387.5 522.8,395.2 521.6,394.3 521.0,398.7 525.1,396.9 523.9,396.0 529.6,388.3"/><polygon points="556.5,387.6 551.4,395.6 550.2,394.8 549.9,399.3 553.9,397.2 552.6,396.4 557.7,388.3"/><polygon points="584.5,387.6 579.0,396.5 577.5,395.6 577.2,400.5 581.6,398.1 580.1,397.2 585.7,388.3"/><polygon points="612.6,387.6 607.0,396.5 605.6,395.6 605.3,400.5 609.7,398.1 608.2,397.2 613.7,388.3"/><polygon points="640.6,387.5 634.6,396.6 633.1,395.6 632.8,400.7 637.3,398.4 635.8,397.4 641.7,388.3"/><polygon points="668.6,387.6 662.8,397.5 661.1,396.5 661.0,401.9 665.6,399.2 663.9,398.2 669.7,388.3"/><polygon points="696.6,387.6 689.4,400.3 687.1,399.0 687.1,405.9 692.9,402.3 690.6,401.0 697.8,388.3"/><polygon points="724.5,387.6 717.3,402.3 714.6,401.0 715.0,408.7 721.3,404.3 718.7,403.0 725.9,388.3"/><polygon points="752.5,387.6 745.4,405.3 742.6,404.2 743.6,412.1 749.8,407.1 746.9,405.9 753.9,388.2"/><polygon points="164.6,415.3 152.6,422.0 151.4,419.9 148.0,425.4 154.5,425.4 153.3,423.2 165.3,416.5"/><polygon points="192.6,415.3 181.8,422.0 180.6,420.1 177.8,425.4 183.7,425.1 182.5,423.2 193.3,416.5"/><polygon points="220.6,415.3 210.7,422.1 209.6,420.4 207.1,425.4 212.7,424.9 211.5,423.2 221.3,416.5"/><polygon points="248.6,415.3 239.7,422.1 238.6,420.6 236.5,425.4 241.7,424.7 240.5,423.2 249.4,416.4"/><polygon points="276.5,415.4 268.6,422.1 267.5,420.8 265.8,425.4 270.6,424.4 269.5,423.1 277.4,416.4"/><polygon points="304.5,415.4 298.4,421.8 297.4,420.9 296.4,424.9 300.4,423.7 299.4,422.7 305.5,416.4"/><polygon points="332.5,415.4 326.4,421.8 325.5,420.9 324.4,424.9 328.4,423.7 327.4,422.7 333.5,416.4"/><polygon points="360.5,415.4 354.4,422.2 353.4,421.2 352.4,425.4 356.5,424.0 355.4,423.1 361.5,416.3"/><polygon points="388.5,415.4 381.6,423.1 380.3,421.9 379.2,426.7 383.9,425.1 382.6,424.0 389.5,416.3"/><polygon points="416.6,415.4 407.2,424.8 405.6,423.1 403.9,429.1 409.8,427.4 408.2,425.7 417.5,416.4"/><polygon points="444.5,415.4 434.3,427.0 432.2,425.2 430.7,432.3 437.5,429.8 435.4,428.0 445.6,416.4"/><polygon points="472.5,415.5 464.0,427.1 461.9,425.6 461.1,432.3 467.2,429.5 465.1,427.9 473.6,416.3"/><polygon points="500.6,415.5 491.5,426.5 489.5,424.9 488.3,431.5 494.6,429.0 492.5,427.4 501.6,416.3"/><polygon points="528.6,415.5 519.3,427.1 517.2,425.5 516.1,432.4 522.6,429.7 520.4,428.0 529.6,416.3"/><polygon points="556.6,415.5 548.1,427.2 545.9,425.6 545.1,432.4 551.3,429.5 549.2,428.0 557.7,416.3"/><polygon points="584.6,415.5 576.6,427.2 574.4,425.7 573.8,432.4 579.8,429.4 577.7,428.0 585.7,416.3"/><polygon points="612.6,415.5 605.2,427.2 603.1,425.9 602.7,432.4 608.5,429.3 606.3,427.9 613.7,416.3"/><polygon points="640.6,415.6 633.8,427.2 631.7,426.0 631.6,432.4 637.1,429.1 635.0,427.9 641.7,416.2"/><polygon points="668.6,415.6 661.5,428.3 659.2,427.0 659.2,433.9 665.0,430.3 662.7,429.0 669.8,416.2"/><polygon points="696.5,415.5 688.9,429.3 686.4,427.9 686.5,435.3 692.7,431.4 690.2,430.0 697.8,416.2"/><polygon points="724.5,415.5 716.2,432.9 713.4,431.6 713.9,439.6 720.4,434.9 717.6,433.6 725.9,416.2"/><polygon points="752.5,415.6 745.2,433.1 742.3,431.9 743.2,439.9 749.5,434.9 746.6,433.7 753.9,416.2"/><polygon points="192.5,443.3 189.0,446.2 188.7,445.8 187.9,447.9 190.1,447.5 189.8,447.2 193.4,444.4"/><polygon points="220.5,443.3 212.4,450.3 211.2,448.9 209.5,453.7 214.4,452.7 213.3,451.3 221.4,444.4"/><polygon points="248.5,443.3 236.5,452.5 234.8,450.3 232.0,456.9 239.0,455.8 237.4,453.6 249.4,444.4"/><polygon points="276.5,443.4 268.6,451.2 267.3,449.8 265.8,454.9 270.8,453.5 269.5,452.1 277.5,444.3"/><polygon points="332.5,443.4 328.3,447.6 327.8,447.1 327.0,449.9 329.7,449.1 329.2,448.6 333.5,444.3"/><polygon points="388.6,443.4 384.3,447.6 383.8,447.1 383.0,449.9 385.8,449.1 385.3,448.6 389.5,444.3"/><polygon points="416.5,443.5 412.2,449.5 411.4,448.9 411.1,452.4 414.2,450.9 413.4,450.3 417.6,444.3"/><polygon points="444.6,443.4 438.9,449.0 438.1,448.2 437.1,451.9 440.7,450.8 439.9,450.0 445.5,444.3"/><polygon points="500.6,443.4 493.6,451.9 492.2,450.8 491.3,455.9 496.1,454.0 494.7,452.8 501.6,444.3"/><polygon points="528.5,443.4 519.3,456.7 516.8,455.1 516.1,462.7 522.9,459.3 520.5,457.6 529.7,444.3"/><polygon points="556.4,443.4 546.6,459.2 543.9,457.6 543.5,465.6 550.5,461.7 547.9,460.1 557.8,444.3"/><polygon points="584.4,443.4 575.0,459.1 572.4,457.6 572.1,465.6 579.1,461.6 576.4,460.0 585.8,444.3"/><polygon points="612.5,443.4 603.0,459.1 600.4,457.6 600.1,465.6 607.1,461.6 604.4,460.0 613.8,444.3"/><polygon points="640.5,443.4 631.1,459.1 628.4,457.6 628.1,465.6 635.1,461.6 632.4,460.0 641.8,444.3"/><polygon points="668.5,443.5 660.3,456.7 657.8,455.2 657.5,462.6 663.9,459.0 661.5,457.5 669.8,444.2"/><polygon points="696.6,443.6 693.0,451.4 691.8,450.8 692.2,454.9 695.4,452.5 694.3,451.9 697.8,444.1"/></g><g fill="#0000F0"><circle cx="697.2" cy="108.2" r="1.1"/><circle cx="669.2" cy="136.2" r="1.1"/><circle cx="697.2" cy="136.2" r="1.1"/><circle cx="669.2" cy="164.2" r="1.1"/><circle cx="697.2" cy="164.2" r="1.1"/><circle cx="725.2" cy="164.2" r="1.1"/><circle cx="753.2" cy="164.2" r="1.1"/><circle cx="557.1" cy="192.1" r="1.1"/><circle cx="585.1" cy="192.1" r="1.1"/><polygon points="640.6,191.6 638.2,194.1 637.9,193.7 637.1,196.1 639.5,195.4 639.2,195.1 641.7,192.7"/><polygon points="668.8,191.5 665.6,193.5 665.3,193.0 664.0,195.3 666.6,195.2 666.4,194.7 669.6,192.8"/><polygon points="696.9,191.4 693.1,192.8 692.9,192.2 691.0,194.3 693.8,194.8 693.6,194.2 697.4,192.8"/><polygon points="725.0,191.4 721.8,192.4 721.6,192.0 720.0,193.7 722.3,194.2 722.2,193.8 725.4,192.8"/><polygon points="753.0,191.4 749.8,192.1 749.7,191.7 748.0,193.3 750.3,194.0 750.2,193.6 753.4,192.9"/><polygon points="220.8,219.4 217.7,220.0 217.7,219.6 216.0,221.1 218.1,221.9 218.0,221.4 221.1,220.8"/><polygon points="248.9,219.4 242.8,219.7 242.7,218.3 239.0,220.6 242.9,222.5 242.9,221.1 249.0,220.8"/><polygon points="277.1,219.3 269.7,218.6 269.9,216.9 265.0,218.9 269.4,221.8 269.5,220.2 276.9,220.9"/><polygon points="305.2,219.2 296.1,217.7 296.4,215.7 290.6,217.7 295.4,221.4 295.8,219.5 304.8,221.0"/><polygon points="333.2,219.2 324.1,217.7 324.4,215.7 318.6,217.7 323.5,221.4 323.8,219.5 332.9,221.0"/><polygon points="361.0,219.3 353.7,219.3 353.7,217.6 349.0,220.1 353.7,222.6 353.7,220.9 361.0,220.9"/><polygon points="389.0,219.3 381.7,219.3 381.7,217.6 377.0,220.1 381.7,222.6 381.7,220.9 389.0,220.9"/><polygon points="417.1,219.3 409.7,219.3 409.7,217.6 405.1,220.1 409.7,222.6 409.7,220.9 417.1,220.9"/><polygon points="445.1,219.3 437.7,219.3 437.7,217.6 433.1,220.1 437.7,222.6 437.7,220.9 445.1,220.9"/><polygon points="473.0,219.3 465.6,219.9 465.5,218.2 461.1,221.1 465.9,223.2 465.8,221.5 473.1,220.9"/><polygon points="501.0,219.3 493.8,220.2 493.6,218.6 489.4,221.6 494.2,223.4 494.0,221.8 501.2,220.9"/><polygon points="528.9,219.3 521.7,221.4 521.2,219.8 517.4,223.5 522.6,224.6 522.1,223.0 529.3,220.9"/><polygon points="556.8,219.3 549.7,221.8 549.1,220.1 545.4,224.1 550.8,225.0 550.2,223.3 557.4,220.9"/><polygon points="584.8,219.4 578.3,222.5 577.6,221.1 574.6,225.2 579.7,225.4 579.0,223.9 585.5,220.8"/><polygon points="612.8,219.4 606.0,222.8 605.2,221.3 602.1,225.7 607.5,225.8 606.8,224.3 613.5,220.8"/><polygon points="640.8,219.4 634.1,222.4 633.4,220.9 630.1,225.1 635.4,225.5 634.7,223.9 641.5,220.8"/><polygon points="668.9,219.4 663.2,221.9 662.7,220.7 660.0,224.1 664.3,224.5 663.8,223.2 669.5,220.8"/><polygon points="696.9,219.4 691.9,221.2 691.5,220.2 689.0,223.1 692.8,223.6 692.4,222.6 697.4,220.8"/><polygon points="725.0,219.4 720.0,220.6 719.7,219.6 717.0,222.1 720.6,223.0 720.3,222.0 725.4,220.8"/><polygon points="753.0,219.4 748.0,220.6 747.7,219.6 745.0,222.1 748.6,223.0 748.3,222.0 753.4,220.8"/><polygon points="136.8,247.3 131.7,248.4 131.5,247.4 128.6,249.8 132.2,250.8 132.0,249.8 137.1,248.8"/><polygon points="164.8,247.3 159.6,248.5 159.4,247.5 156.5,250.0 160.2,251.0 159.9,250.0 165.1,248.8"/><polygon points="192.9,247.2 184.9,247.5 184.9,245.7 179.9,248.6 185.1,251.1 185.0,249.2 193.0,248.9"/><polygon points="221.0,247.1 211.9,247.1 211.9,245.2 206.5,248.1 211.9,251.0 211.9,249.0 221.0,249.0"/><polygon points="249.0,247.1 240.4,247.1 240.4,245.2 235.0,248.1 240.4,251.0 240.4,249.0 249.0,249.0"/><polygon points="277.1,247.2 266.5,245.6 266.8,243.6 261.0,245.7 265.9,249.3 266.2,247.4 276.9,249.0"/><polygon points="305.1,247.2 293.5,245.5 293.8,243.6 288.0,245.7 292.9,249.3 293.2,247.3 304.9,249.0"/><polygon points="333.1,247.2 321.5,245.8 321.7,243.8 316.0,246.1 321.0,249.6 321.3,247.6 332.9,249.0"/><polygon points="361.1,247.2 349.5,245.8 349.7,243.8 344.0,246.1 349.0,249.6 349.3,247.6 360.9,249.0"/><polygon points="389.0,247.1 378.8,247.8 378.6,245.8 373.4,249.1 379.0,251.6 378.9,249.6 389.1,249.0"/><polygon points="416.9,247.2 406.9,248.3 406.7,246.3 401.7,249.8 407.3,252.1 407.1,250.1 417.2,249.0"/><polygon points="444.9,247.2 434.8,249.1 434.4,247.1 429.7,251.0 435.5,252.8 435.1,250.9 445.2,249.0"/><polygon points="473.0,247.1 462.8,248.1 462.6,246.2 457.5,249.6 463.1,251.9 462.9,250.0 473.2,249.0"/><polygon points="500.9,247.2 490.8,248.9 490.5,247.0 485.7,250.8 491.5,252.7 491.2,250.7 501.2,249.0"/><polygon points="528.9,247.2 518.7,249.7 518.2,247.8 513.7,252.0 519.6,253.5 519.2,251.5 529.3,249.0"/><polygon points="556.8,247.2 547.7,250.5 547.0,248.6 542.9,253.2 549.0,254.1 548.3,252.2 557.4,248.9"/><polygon points="584.8,247.2 576.8,250.3 576.1,248.5 572.1,253.2 578.2,253.9 577.5,252.1 585.5,248.9"/><polygon points="612.8,247.2 605.0,250.4 604.3,248.6 600.4,253.2 606.4,253.8 605.7,252.0 613.5,248.9"/><polygon points="640.9,247.3 634.0,250.1 633.3,248.5 629.9,252.6 635.2,253.2 634.6,251.6 641.4,248.8"/><polygon points="668.9,247.3 662.0,249.8 661.5,248.2 658.0,252.1 663.1,252.8 662.5,251.3 669.4,248.8"/><polygon points="697.0,247.3 690.1,249.2 689.7,247.6 686.0,251.1 690.9,252.2 690.5,250.7 697.4,248.8"/><polygon points="725.1,247.3 718.2,248.6 717.9,247.0 714.0,250.1 718.7,251.6 718.4,250.0 725.3,248.8"/><polygon points="753.1,247.3 746.8,248.6 746.5,247.2 743.0,250.1 747.3,251.4 747.1,250.0 753.3,248.8"/><polygon points="108.9,275.1 96.3,275.1 96.3,273.1 90.9,276.0 96.3,278.9 96.3,277.0 108.9,277.0"/><polygon points="136.9,275.1 124.3,275.1 124.3,273.1 118.9,276.0 124.3,278.9 124.3,277.0 136.9,277.0"/><polygon points="164.9,275.1 153.5,275.1 153.5,273.1 148.1,276.0 153.5,278.9 153.5,277.0 164.9,277.0"/><polygon points="192.9,275.1 181.3,275.1 181.3,273.1 175.9,276.0 181.3,278.9 181.3,277.0 192.9,277.0"/><polygon points="221.0,275.1 209.4,275.1 209.4,273.1 204.0,276.0 209.4,278.9 209.4,277.0 221.0,277.0"/><polygon points="249.0,275.1 237.4,275.1 237.4,273.1 232.0,276.0 237.4,278.9 237.4,277.0 249.0,277.0"/><polygon points="277.0,275.1 265.4,275.1 265.4,273.1 260.0,276.0 265.4,278.9 265.4,277.0 277.0,277.0"/><polygon points="305.0,275.1 293.4,275.1 293.4,273.1 288.0,276.0 293.4,278.9 293.4,277.0 305.0,277.0"/><polygon points="333.0,275.1 321.4,275.1 321.4,273.1 316.0,276.0 321.4,278.9 321.4,277.0 333.0,277.0"/><polygon points="361.0,275.1 349.4,275.6 349.3,273.6 344.0,276.7 349.5,279.4 349.5,277.4 361.1,277.0"/><polygon points="389.0,275.1 377.4,275.9 377.2,274.0 372.0,277.2 377.6,279.8 377.5,277.8 389.1,277.0"/><polygon points="416.9,275.1 405.7,276.5 405.5,274.5 400.4,278.0 406.2,280.3 405.9,278.3 417.2,277.0"/><polygon points="444.9,275.1 433.7,276.8 433.4,274.8 428.5,278.4 434.2,280.5 433.9,278.6 445.2,277.0"/><polygon points="472.9,275.1 461.3,277.0 460.9,275.1 456.1,278.8 461.9,280.8 461.6,278.9 473.2,277.0"/><polygon points="500.9,275.1 489.2,277.5 488.8,275.6 484.1,279.5 490.0,281.3 489.6,279.4 501.3,276.9"/><polygon points="528.8,275.2 518.1,278.3 517.6,276.4 513.2,280.7 519.2,282.0 518.6,280.1 529.4,276.9"/><polygon points="556.8,275.2 546.6,278.3 546.0,276.4 541.7,280.7 547.7,281.9 547.1,280.0 557.4,276.9"/><polygon points="584.8,275.2 575.8,278.9 575.0,277.1 571.1,281.8 577.2,282.5 576.5,280.6 585.5,276.9"/><polygon points="612.8,275.2 605.2,278.4 604.5,276.6 600.7,281.1 606.6,281.7 605.9,280.0 613.5,276.9"/><polygon points="640.9,275.3 633.6,278.0 633.0,276.4 629.4,280.5 634.8,281.2 634.2,279.6 641.4,276.8"/><polygon points="668.9,275.3 662.1,278.2 661.4,276.6 658.2,280.7 663.4,281.2 662.7,279.7 669.5,276.8"/><polygon points="696.9,275.3 689.8,277.7 689.2,276.0 685.6,279.9 690.9,280.8 690.3,279.2 697.4,276.8"/><polygon points="725.0,275.3 718.5,277.3 718.1,275.8 714.7,279.2 719.4,280.2 719.0,278.7 725.4,276.7"/><polygon points="753.0,275.3 747.0,276.9 746.7,275.6 743.5,278.6 747.8,279.6 747.4,278.4 753.4,276.8"/><polygon points="80.9,303.1 70.3,303.4 70.2,301.4 64.9,304.5 70.4,307.2 70.3,305.3 80.9,304.9"/><polygon points="108.9,303.1 96.3,303.1 96.3,301.1 90.9,304.0 96.3,306.9 96.3,304.9 108.9,304.9"/><polygon points="136.9,303.1 124.3,303.1 124.3,301.1 118.9,304.0 124.3,306.9 124.3,304.9 136.9,304.9"/><polygon points="164.9,303.1 152.3,303.1 152.3,301.1 146.9,304.0 152.3,306.9 152.3,304.9 164.9,304.9"/><polygon points="192.9,303.1 180.3,303.1 180.3,301.1 174.9,304.0 180.3,306.9 180.3,304.9 192.9,304.9"/><polygon points="221.0,303.1 208.4,303.1 208.4,301.1 203.0,304.0 208.4,306.9 208.4,304.9 221.0,304.9"/><polygon points="249.0,303.1 236.4,303.1 236.4,301.1 231.0,304.0 236.4,306.9 236.4,304.9 249.0,304.9"/><polygon points="277.0,303.1 265.4,303.1 265.4,301.1 260.0,304.0 265.4,306.9 265.4,304.9 277.0,304.9"/><polygon points="305.0,303.1 293.4,303.1 293.4,301.1 288.0,304.0 293.4,306.9 293.4,304.9 305.0,304.9"/><polygon points="333.0,303.1 321.4,303.1 321.4,301.1 316.0,304.0 321.4,306.9 321.4,304.9 333.0,304.9"/><polygon points="361.0,303.1 349.4,303.6 349.3,301.6 344.0,304.7 349.5,307.4 349.5,305.4 361.1,304.9"/><polygon points="389.0,303.1 377.4,303.9 377.2,301.9 372.0,305.2 377.6,307.7 377.5,305.8 389.1,304.9"/><polygon points="416.9,303.1 405.6,304.9 405.3,303.0 400.4,306.7 406.2,308.7 405.9,306.8 417.2,304.9"/><polygon points="444.9,303.1 433.5,305.6 433.1,303.7 428.5,307.7 434.4,309.4 433.9,307.4 445.3,304.9"/><polygon points="472.9,303.1 462.0,305.6 461.6,303.7 457.0,307.7 462.9,309.3 462.4,307.4 473.3,304.9"/><polygon points="500.8,303.1 490.1,306.1 489.6,304.2 485.2,308.4 491.2,309.8 490.6,307.9 501.3,304.9"/><polygon points="528.8,303.1 518.6,306.0 518.1,304.1 513.7,308.4 519.7,309.7 519.1,307.8 529.4,304.9"/><polygon points="556.8,303.1 547.8,305.9 547.2,304.0 542.9,308.4 548.9,309.6 548.3,307.7 557.4,304.9"/><polygon points="584.8,303.2 576.8,306.3 576.1,304.5 572.1,309.1 578.2,309.8 577.5,308.0 585.5,304.9"/><polygon points="612.8,303.2 605.0,306.3 604.3,304.5 600.4,309.1 606.4,309.8 605.7,308.0 613.5,304.8"/><polygon points="640.8,303.2 633.4,306.3 632.7,304.6 629.1,309.0 634.8,309.6 634.1,307.9 641.5,304.8"/><polygon points="668.9,303.3 662.1,305.7 661.6,304.1 658.2,307.9 663.2,308.7 662.7,307.1 669.4,304.7"/><polygon points="697.0,303.2 689.8,305.3 689.3,303.7 685.6,307.4 690.8,308.5 690.3,306.9 697.4,304.8"/><polygon points="724.9,303.3 718.5,305.7 717.9,304.2 714.7,307.9 719.5,308.6 719.0,307.1 725.4,304.7"/><polygon points="753.0,303.3 746.7,305.4 746.2,304.0 743.0,307.4 747.6,308.2 747.2,306.8 753.4,304.7"/><polygon points="108.9,331.1 96.3,331.1 96.3,329.1 90.9,332.0 96.3,334.9 96.3,332.9 108.9,332.9"/><polygon points="136.9,331.1 125.3,331.1 125.3,329.1 119.9,332.0 125.3,334.9 125.3,332.9 136.9,332.9"/><polygon points="164.9,331.1 153.3,331.1 153.3,329.1 147.9,332.0 153.3,334.9 153.3,332.9 164.9,332.9"/><polygon points="192.9,331.1 181.3,331.1 181.3,329.1 175.9,332.0 181.3,334.9 181.3,332.9 192.9,332.9"/><polygon points="221.0,331.1 209.4,331.1 209.4,329.1 204.0,332.0 209.4,334.9 209.4,332.9 221.0,332.9"/><polygon points="249.0,331.1 237.4,331.1 237.4,329.1 232.0,332.0 237.4,334.9 237.4,332.9 249.0,332.9"/><polygon points="277.0,331.1 265.4,331.1 265.4,329.1 260.0,332.0 265.4,334.9 265.4,332.9 277.0,332.9"/><polygon points="305.0,331.1 293.4,331.5 293.3,329.6 288.0,332.7 293.5,335.4 293.4,333.4 305.0,332.9"/><polygon points="332.9,331.1 321.3,331.9 321.2,329.9 316.0,333.2 321.6,335.7 321.5,333.7 333.1,332.9"/><polygon points="360.9,331.1 349.3,332.4 349.0,330.5 344.0,334.0 349.7,336.2 349.5,334.3 361.1,332.9"/><polygon points="388.9,331.1 378.3,332.4 378.0,330.4 373.0,334.0 378.8,336.2 378.5,334.2 389.2,332.9"/><polygon points="416.9,331.1 406.8,332.6 406.5,330.7 401.7,334.4 407.4,336.4 407.1,334.5 417.2,332.9"/><polygon points="444.9,331.1 435.5,332.8 435.1,330.9 430.4,334.7 436.2,336.6 435.8,334.6 445.2,332.9"/><polygon points="472.9,331.1 463.0,333.2 462.6,331.2 457.9,335.2 463.8,336.9 463.3,335.0 473.3,332.9"/><polygon points="500.9,331.1 491.4,333.6 490.9,331.7 486.4,335.9 492.4,337.3 491.8,335.4 501.3,332.9"/><polygon points="528.8,331.1 519.8,333.9 519.2,332.0 514.9,336.4 520.9,337.6 520.3,335.7 529.4,332.9"/><polygon points="556.8,331.1 548.2,334.2 547.5,332.3 543.4,336.9 549.5,337.8 548.8,335.9 557.4,332.9"/><polygon points="584.8,331.1 576.8,333.8 576.2,332.0 572.1,336.4 578.1,337.4 577.4,335.5 585.4,332.8"/><polygon points="612.8,331.1 605.0,334.2 604.3,332.4 600.4,336.9 606.4,337.6 605.7,335.8 613.5,332.8"/><polygon points="640.9,331.2 633.7,334.0 633.1,332.3 629.5,336.5 635.0,337.1 634.3,335.5 641.4,332.7"/><polygon points="668.9,331.3 662.6,333.9 662.0,332.4 659.0,336.2 663.8,336.7 663.2,335.2 669.4,332.7"/><polygon points="696.9,331.3 690.7,333.6 690.1,332.1 687.0,335.7 691.7,336.4 691.2,334.9 697.4,332.7"/><polygon points="724.9,331.3 718.5,333.6 718.0,332.1 714.7,335.7 719.5,336.4 719.0,335.0 725.4,332.7"/><polygon points="752.9,331.3 746.7,333.6 746.2,332.1 743.0,335.7 747.7,336.4 747.2,334.9 753.5,332.7"/><polygon points="108.9,359.0 97.7,359.2 97.7,357.2 92.3,360.2 97.7,363.0 97.7,361.0 108.9,360.9"/><polygon points="136.9,359.0 125.7,359.2 125.7,357.2 120.3,360.2 125.8,363.0 125.7,361.0 136.9,360.9"/><polygon points="164.9,359.0 153.4,359.7 153.3,357.7 148.0,361.0 153.6,363.5 153.5,361.6 165.0,360.9"/><polygon points="192.9,359.0 180.6,360.2 180.4,358.2 175.3,361.7 181.0,364.0 180.8,362.1 193.0,360.9"/><polygon points="220.9,359.0 208.6,360.2 208.5,358.2 203.4,361.7 209.0,364.0 208.8,362.1 221.1,360.9"/><polygon points="248.9,359.0 236.9,360.2 236.7,358.2 231.6,361.7 237.2,364.0 237.0,362.0 249.1,360.9"/><polygon points="276.9,359.0 265.3,360.1 265.1,358.1 260.0,361.5 265.6,363.9 265.4,361.9 277.1,360.9"/><polygon points="304.9,359.0 293.8,360.1 293.6,358.1 288.5,361.6 294.2,363.9 294.0,361.9 305.1,360.9"/><polygon points="332.9,359.0 321.5,360.5 321.3,358.6 316.3,362.2 322.0,364.3 321.8,362.4 333.1,360.9"/><polygon points="360.9,359.0 350.2,360.6 349.9,358.7 345.0,362.4 350.8,364.4 350.5,362.5 361.2,360.9"/><polygon points="388.9,359.0 379.5,360.0 379.3,358.1 374.2,361.6 379.9,363.9 379.7,361.9 389.1,360.9"/><polygon points="416.9,359.0 408.0,360.2 407.7,358.2 402.8,361.8 408.5,364.0 408.2,362.0 417.2,360.9"/><polygon points="445.0,359.1 436.8,360.1 436.6,358.2 431.8,361.6 437.2,363.7 437.0,361.8 445.2,360.8"/><polygon points="473.0,359.2 465.6,360.1 465.4,358.4 461.1,361.6 466.0,363.4 465.8,361.7 473.2,360.7"/><polygon points="500.9,359.2 493.8,360.5 493.4,358.9 489.4,362.2 494.4,363.7 494.0,362.1 501.2,360.7"/><polygon points="529.0,359.2 522.2,360.6 521.9,359.0 518.1,362.2 522.8,363.6 522.5,362.0 529.2,360.7"/><polygon points="556.9,359.2 550.5,361.0 550.1,359.6 546.6,362.9 551.3,363.9 550.9,362.4 557.3,360.7"/><polygon points="584.9,359.2 578.5,361.0 578.1,359.6 574.6,362.9 579.3,363.9 578.9,362.4 585.3,360.7"/><polygon points="612.9,359.2 606.6,361.3 606.1,359.9 602.8,363.4 607.5,364.2 607.0,362.7 613.4,360.7"/><polygon points="640.9,359.2 634.7,361.1 634.3,359.7 631.0,363.0 635.6,363.9 635.2,362.5 641.4,360.7"/><polygon points="668.9,359.2 663.0,361.2 662.5,359.9 659.5,363.2 663.9,363.9 663.4,362.6 669.4,360.7"/><polygon points="696.9,359.2 691.1,361.2 690.7,359.9 687.7,363.2 692.0,363.9 691.6,362.6 697.4,360.7"/><polygon points="724.9,359.3 719.8,361.2 719.4,360.2 716.8,363.2 720.7,363.7 720.3,362.6 725.5,360.6"/><polygon points="752.9,359.3 748.2,361.2 747.9,360.3 745.6,363.2 749.2,363.5 748.8,362.6 753.5,360.6"/><polygon points="109.1,387.2 104.6,386.0 104.8,385.2 101.6,385.9 104.0,388.2 104.2,387.4 108.7,388.6"/><polygon points="137.0,387.1 129.3,386.2 129.6,384.4 124.4,386.4 128.9,389.6 129.1,387.8 136.8,388.7"/><polygon points="164.9,387.0 156.4,387.0 156.4,385.0 151.0,387.9 156.4,390.8 156.4,388.8 164.9,388.8"/><polygon points="192.9,387.0 184.4,387.3 184.3,385.3 179.0,388.4 184.5,391.1 184.4,389.1 193.0,388.8"/><polygon points="220.9,387.0 211.1,387.6 211.0,385.7 205.8,388.9 211.3,391.5 211.2,389.5 221.0,388.8"/><polygon points="248.9,387.0 238.9,387.6 238.8,385.7 233.6,388.9 239.2,391.5 239.0,389.5 249.0,388.8"/><polygon points="276.9,387.0 266.9,387.6 266.8,385.7 261.6,388.9 267.2,391.5 267.0,389.5 277.0,388.8"/><polygon points="304.9,387.0 294.6,388.4 294.3,386.5 289.4,390.1 295.2,392.2 294.9,390.3 305.1,388.8"/><polygon points="332.9,387.0 323.0,388.3 322.8,386.3 317.8,389.9 323.5,392.1 323.3,390.1 333.1,388.8"/><polygon points="360.9,387.0 351.5,388.3 351.2,386.3 346.2,389.9 352.0,392.1 351.7,390.1 361.1,388.8"/><polygon points="389.0,387.0 379.7,387.8 379.6,385.8 374.4,389.1 380.1,391.6 379.9,389.6 389.1,388.8"/><polygon points="417.0,387.1 409.5,387.5 409.4,385.8 404.9,388.5 409.7,390.8 409.6,389.1 417.1,388.7"/><polygon points="445.0,387.2 438.2,387.4 438.1,385.8 433.9,388.2 438.2,390.4 438.2,388.8 445.1,388.7"/><polygon points="473.1,387.2 467.2,387.4 467.2,386.1 463.6,388.2 467.3,390.1 467.3,388.8 473.1,388.7"/><polygon points="501.1,387.2 495.4,387.3 495.3,386.1 491.8,388.1 495.4,390.0 495.4,388.8 501.1,388.7"/><polygon points="529.0,387.2 524.0,387.8 523.9,386.9 521.0,388.9 524.3,390.2 524.2,389.3 529.2,388.7"/><polygon points="557.0,387.2 551.4,387.9 551.2,386.8 547.9,389.1 551.7,390.6 551.6,389.4 557.2,388.7"/><polygon points="585.0,387.2 579.5,388.2 579.2,387.1 576.1,389.6 579.9,390.8 579.7,389.7 585.3,388.6"/><polygon points="613.0,387.2 607.7,388.1 607.5,387.1 604.5,389.4 608.2,390.6 608.0,389.6 613.3,388.6"/><polygon points="641.0,387.2 636.1,388.1 635.9,387.2 633.1,389.4 636.5,390.5 636.4,389.6 641.3,388.6"/><polygon points="669.1,387.2 664.6,387.8 664.5,387.0 661.9,388.9 664.9,390.0 664.8,389.3 669.3,388.7"/><polygon points="697.0,387.2 694.3,387.8 694.2,387.4 692.7,388.9 694.7,389.7 694.6,389.3 697.3,388.6"/><circle cx="725.2" cy="387.9" r="1.1"/><circle cx="753.2" cy="387.9" r="1.1"/><circle cx="136.9" cy="415.9" r="1.1"/><polygon points="165.1,415.2 162.3,414.6 162.4,414.1 160.3,414.9 161.9,416.4 162.0,416.0 164.8,416.6"/><polygon points="193.1,415.2 189.0,414.5 189.1,413.9 186.3,414.9 188.7,416.6 188.8,416.0 192.8,416.6"/><polygon points="221.0,415.2 216.2,415.0 216.2,414.2 213.2,415.7 216.1,417.4 216.2,416.5 220.9,416.6"/><polygon points="249.0,415.2 244.3,415.0 244.3,414.2 241.4,415.7 244.3,417.3 244.3,416.5 249.0,416.6"/><polygon points="277.0,415.2 270.9,415.0 270.9,413.7 267.0,415.7 270.8,417.8 270.8,416.5 277.0,416.6"/><polygon points="305.0,415.2 298.2,415.3 298.2,413.7 294.0,416.1 298.3,418.3 298.3,416.8 305.0,416.6"/><polygon points="332.9,415.1 325.4,416.1 325.2,414.4 320.8,417.6 325.9,419.5 325.6,417.7 333.1,416.7"/><polygon points="360.9,415.2 354.2,416.2 353.9,414.7 350.0,417.6 354.6,419.2 354.4,417.7 361.1,416.6"/><polygon points="389.1,415.2 383.8,415.0 383.8,414.0 380.4,415.7 383.7,417.5 383.7,416.5 389.0,416.6"/><polygon points="417.1,415.2 414.3,415.0 414.3,414.6 412.4,415.7 414.2,417.0 414.2,416.5 417.0,416.6"/><polygon points="445.1,415.1 443.0,415.1 443.0,414.7 441.7,415.9 443.0,417.1 443.0,416.6 445.1,416.6"/><polygon points="473.1,415.1 470.7,415.1 470.7,414.7 469.3,415.9 470.7,417.1 470.7,416.6 473.1,416.6"/><polygon points="501.1,415.2 498.4,415.0 498.5,414.5 496.7,415.6 498.3,416.9 498.3,416.4 501.0,416.6"/><polygon points="529.1,415.1 526.4,415.1 526.4,414.7 524.7,415.9 526.4,417.1 526.4,416.6 529.1,416.6"/><polygon points="557.0,415.2 553.0,416.0 552.9,415.4 550.7,417.2 553.5,418.0 553.3,417.4 557.3,416.6"/><polygon points="585.0,415.2 580.3,416.0 580.1,415.1 577.4,417.2 580.7,418.3 580.5,417.4 585.2,416.6"/><polygon points="613.0,415.2 608.3,416.0 608.1,415.1 605.4,417.2 608.7,418.3 608.5,417.4 613.3,416.6"/><polygon points="641.0,415.2 636.3,416.0 636.2,415.1 633.4,417.2 636.7,418.3 636.5,417.4 641.3,416.6"/><polygon points="669.1,415.2 666.0,415.5 666.0,415.0 664.2,416.4 666.2,417.4 666.2,416.9 669.2,416.6"/><circle cx="697.2" cy="415.9" r="1.1"/></g>
</g>
<ellipse cx="568" cy="455.4" rx="2" ry="1" fill="#111"/>
<polygon points="492.6,445 494,444.4 504.5,455 514.8,465.8 513.8,466.1 503.5,456.5 492.8,446.2" fill="#FDDFAB" stroke="#1a1a1a" stroke-width="0.85"/>
<path d="M480.5,431.5 C478,434 479,438.5 483,440.2 C485,440.8 486.5,440 487,439" fill="none" stroke="#62627E" stroke-width="0.7"/>
<line x1="136.9" x2="136.9" y1="24.0" y2="502.1" stroke="#808080" stroke-opacity="0.6" stroke-width="1" stroke-dasharray="3.9,3.1"/>
<line x1="305.0" x2="305.0" y1="24.0" y2="502.1" stroke="#808080" stroke-opacity="0.6" stroke-width="1" stroke-dasharray="3.9,3.1"/>
<line x1="473.1" x2="473.1" y1="24.0" y2="502.1" stroke="#808080" stroke-opacity="0.6" stroke-width="1" stroke-dasharray="3.9,3.1"/>
<line x1="641.15" x2="641.15" y1="24.0" y2="502.1" stroke="#808080" stroke-opacity="0.6" stroke-width="1" stroke-dasharray="3.9,3.1"/>
<line x1="53.4" x2="758.6" y1="150.1" y2="150.1" stroke="#808080" stroke-opacity="0.6" stroke-width="1" stroke-dasharray="3.9,3.1"/>
<line x1="53.4" x2="758.6" y1="318.0" y2="318.0" stroke="#808080" stroke-opacity="0.6" stroke-width="1" stroke-dasharray="3.9,3.1"/>
<line x1="53.4" x2="758.6" y1="485.7" y2="485.7" stroke="#808080" stroke-opacity="0.6" stroke-width="1" stroke-dasharray="3.9,3.1"/>
<polyline points="84.6,24.0 84.6,32.3 75.7,32.3 69.5,34.3 67.9,39.5 70.5,44.6 77.8,47.1 87.1,45.7 94.3,42.6 102.5,38.5 108.7,38.9 114.9,37.4 123.2,32.3 131.4,30.6 136.6,31.2 141.8,35.4 146.9,44.6 148.4,52.9 147.5,62.2 151.1,67.4 156.2,73.5 158.3,78.7 164.5,84.9 170.7,92.1 176.9,95.2 185.1,90.1 190.3,92.1 193.0,100.4 195.0,106.6 201.6,107.6 205.8,111.7 213.0,114.4 220.2,111.7 225.0,108.4 229.9,103.5 239.7,103.5 242.1,113.2 249.4,115.7 251.9,118.1 259.2,113.2 262.9,107.1 264.1,99.8 269.0,91.2 277.6,91.2 284.9,86.3 291.0,82.7 298.3,81.9 304.5,81.9 311.8,85.1 322.8,86.3 331.4,84.6 338.7,71.7 344.8,68.5 354.6,64.3 365.6,61.2 374.1,57.0 381.5,50.9 388.8,46.5 396.1,48.4 403.5,54.6 413.3,53.8 420.6,52.1 427.9,45.5 435.3,42.3 442.8,43.1 457.1,49.5 465.1,47.0 474.6,47.9 477.8,43.1 489.0,38.3 490.0,24.0" fill="none" stroke="#62627E" stroke-width="0.95" stroke-dasharray="3.6,2.8"/>
<polyline points="304.5,81.9 298.3,74.1 291.0,69.2 287.3,60.7 281.2,54.6 276.3,49.7 270.2,45.5 273.9,38.7 276.3,33.8 270.2,30.1 266.6,24.0" fill="none" stroke="#62627E" stroke-width="0.95" stroke-dasharray="3.6,2.8"/>
<polyline points="251.9,118.1 256.8,126.7 257.2,138.9 259.7,144.7 266.3,150.0 275.7,156.0 285.0,160.7 295.7,164.7 305.0,167.3 315.7,171.3 326.3,174.9 333.0,174.0 339.7,179.3 343.0,184.0 341.7,191.5" fill="none" stroke="#62627E" stroke-width="0.95" stroke-dasharray="3.6,2.8"/>
<polyline points="194.6,106.6 185.4,105.9 182.1,108.5 184.1,114.5 180.2,119.7 172.3,123.7 164.4,117.7 160.4,120.4 155.2,121.7 148.6,119.7 145.3,121.0 147.3,124.3 152.6,127.6 151.2,130.2 143.4,134.2 135.5,138.8 126.3,143.4 117.1,148.0 113.1,149.9 105.3,155.2 100.0,157.8 95.7,157.8 89.6,150.5 84.7,146.8 77.4,150.5 70.1,155.4 64.0,157.8 61.5,152.9 64.0,144.4 57.9,142.0 52.0,143.2" fill="none" stroke="#62627E" stroke-width="0.95" stroke-dasharray="3.6,2.8"/>
<polyline points="113.1,149.9 118.4,154.5 122.3,160.4 123.0,165.7 120.1,170.0 111.5,176.1 104.2,178.5 96.9,174.9 89.6,171.2 82.3,174.9 79.8,179.8 84.7,187.1 84.7,193.2 81.0,200.5 76.2,209.0 67.6,212.7 60.3,216.3 52.0,222.4" fill="none" stroke="#62627E" stroke-width="0.95" stroke-dasharray="3.6,2.8"/>
<polyline points="52.0,231.0 61.3,230.7 69.7,236.3 76.7,246.1 81.0,254.6 82.4,263.0 85.2,263.0 91.0,266.0" fill="none" stroke="#62627E" stroke-width="0.95" stroke-dasharray="3.6,2.8"/>
<polyline points="591.0,24.0 587.8,30.4 587.2,44.7 579.2,46.3 579.9,61.6 557.6,68.6 535.2,83.0 531.4,97.3 529.5,113.3 512.9,110.1 504.9,105.3 498.6,105.3 493.8,116.5 485.8,122.9 481.0,132.4 471.5,135.6 473.0,153.1 461.9,164.3 466.7,173.9 450.7,183.4 449.1,191.5" fill="none" stroke="#62627E" stroke-width="0.95" stroke-dasharray="3.6,2.8"/>
<polyline points="640.5,24.0 640.5,30.0 642.2,37.2 650.7,50.7 655.2,60.0 663.0,67.9 671.0,74.5 676.2,73.1 684.0,75.8 694.6,81.0 701.2,85.0" fill="none" stroke="#62627E" stroke-width="0.95" stroke-dasharray="3.6,2.8"/>
<polyline points="602.7,469.3 605.3,480.0 612.0,486.0 618.7,490.7 630.0,495.0 640.0,498.7 660.0,503.0" fill="none" stroke="#62627E" stroke-width="0.8"/>
<polyline points="69.5,331.2 71.0,336.0 74.5,340.5 79.3,343.4" fill="none" stroke="#62627E" stroke-width="0.8"/>
<polyline points="59.6,331.5 59.6,321.4 151.3,308.7" fill="none" stroke="#2a2a2a" stroke-width="0.9"/>
<polyline points="96.7,267.3 152.7,296.1" fill="none" stroke="#2a2a2a" stroke-width="0.9"/>
<polyline points="152.7,296.1 158.0,290.8 170.0,288.7 196.7,287.3 215.3,284.7 231.3,279.3 247.3,270.0 258.0,262.0 266.0,252.7 271.3,250.8 290.0,249.2 308.7,248.7 333.3,247.8 355.6,251.1 377.8,254.4 400.0,257.0 422.2,253.3 440.0,248.0 454.2,246.8 473.3,247.8 482.7,251.1 493.3,253.3 515.6,257.8 525.3,258.2 533.3,257.8 546.7,254.7 555.6,252.2 571.6,244.0 589.3,249.3 600.0,251.1 614.2,251.8 639.1,249.3 671.1,233.3 699.6,206.7 707.0,199.0 716.0,187.0 721.0,178.0 726.0,165.0 731.0,152.0 735.0,142.0 739.5,136.3 746.8,133.2 759.0,128.0" fill="none" stroke="#2e2e2e" stroke-width="1.05" stroke-dasharray="4,2.7"/>
<polyline points="252.7,198.2 265.0,253.0" fill="none" stroke="#2e2e2e" stroke-width="1.05" stroke-dasharray="4,2.7"/>
<polyline points="151.3,308.7 155.3,318.0 158.5,330.0 159.5,340.0 159.0,350.0 156.0,358.0 149.1,366.3 137.8,377.6 122.1,386.6 106.3,391.5" fill="none" stroke="#2e2e2e" stroke-width="1.05" stroke-dasharray="4,2.7"/>
<polyline points="452.4,192.4 452.4,246.5" fill="none" stroke="#2e2e2e" stroke-width="1.05" stroke-dasharray="4,2.7"/>
<polyline points="607.1,194.2 615.3,251.5" fill="none" stroke="#2e2e2e" stroke-width="1.05" stroke-dasharray="4,2.7"/>
<polyline points="342.5,194.0 345.0,248.3" fill="none" stroke="#2e2e2e" stroke-width="1.05" stroke-dasharray="4,2.7"/>
<polyline points="702.2,85.3 749.6,132.0" fill="none" stroke="#2e2e2e" stroke-width="1.05" stroke-dasharray="4,2.7"/>
<polyline points="742.8,62.0 758.9,81.4" fill="none" stroke="#2e2e2e" stroke-width="1.05" stroke-dasharray="4,2.7"/>
<polyline points="757.9,58.0 757.9,128.0" fill="none" stroke="#2e2e2e" stroke-width="1.05" stroke-dasharray="4,2.7"/>
<polyline points="410.1,453.5 409.3,437.5 411.0,425.7 416.0,412.2 423.6,400.4 433.8,388.6 445.6,381.8 459.1,377.6 472.6,375.9 481.1,376.0 490.0,377.5 503.6,379.2 514.4,384.0 520.7,386.6 528.0,392.0 536.6,398.8 541.5,405.0 546.7,413.3 551.5,425.0 553.3,435.0 552.5,445.0 549.3,456.0 544.0,465.3" fill="none" stroke="#2e2e2e" stroke-width="1.05" stroke-dasharray="4,2.7"/>
<polyline points="53.4,310.8 58.4,309.9 61.3,308.5 64.1,306.1 64.5,302.8 63.1,300.0 62.7,295.3 62.7,292.5 65.0,288.3 67.4,287.4 71.6,288.3 75.3,290.2 77.2,293.5 78.6,297.7 80.0,298.1 80.5,292.5 81.0,286.4 83.3,282.2 86.6,277.5 88.3,273.5 91.6,269.6 95.3,266.3 97.2,262.5 99.1,257.8 101.9,253.1 105.6,248.9 109.4,247.5 116.0,246.6 120.6,244.7 126.3,241.9 131.9,241.0 137.5,240.5 141.3,239.1 146.9,235.8 152.5,232.5 158.2,232.7 160.0,233.3 169.4,234.2 178.8,235.0 186.3,234.2 192.8,232.3 200.3,228.6 203.2,225.8 206.4,221.5 210.7,221.1 216.3,220.1 220.0,215.9 222.9,210.8 227.5,206.1 231.3,200.4 235.0,197.2 240.0,196.3 251.7,197.3 268.3,198.1 279.4,196.4 287.2,194.8 292.8,192.6 297.2,192.9 303.9,194.2 311.7,195.9 319.4,193.7 327.2,192.0 332.8,191.4 335.0,192.2 342.8,194.4 350.6,196.4 358.3,195.3 361.7,193.1 371.7,193.1 373.9,195.3 379.4,198.1 385.0,196.4 387.2,197.0 392.8,200.9 402.8,201.1 408.3,198.1 417.2,192.9 423.9,192.6 435.0,191.4 446.1,192.6 457.2,191.8 468.3,192.9 475.0,193.7 485.0,191.4 489.4,193.1 495.0,197.6 498.9,200.3 502.2,198.1 507.2,199.8 512.8,202.6 519.4,202.6 527.2,201.4 532.8,199.2 535.0,197.8 539.4,191.7 543.9,182.2 547.2,180.0 557.2,178.9 561.7,178.9 568.3,181.1 572.8,179.4 579.4,177.4 585.0,178.1 592.8,182.8 599.4,188.3 606.1,193.9 612.8,195.2 619.4,194.1 623.9,190.6 627.5,188.0 631.0,183.6 637.0,178.3 640.0,170.1 646.0,165.6 655.0,161.0 657.3,158.0 656.5,153.5 659.5,149.0 664.0,141.5 667.0,134.0 669.3,125.0 671.5,119.0 674.5,114.5 677.5,110.0 680.0,107.4 684.5,102.9 689.0,98.4 692.4,93.9 695.2,89.4 700.2,86.6 707.0,83.7 713.7,80.9 720.5,78.1 725.0,78.1 727.2,75.9 728.4,71.4 731.7,68.0 738.5,65.7 744.1,61.8 749.7,57.9 754.2,55.6 759.0,55.0" fill="none" stroke="#1a1a1a" stroke-width="1.1" stroke-linejoin="round"/>
<polyline points="53.4,336.1 55.0,334.9 60.6,331.5 64.0,332.1 66.3,332.6 69.6,331.0 75.3,330.4 80.9,331.5 85.4,333.2 88.8,333.8 86.5,335.5 83.2,338.3 80.3,341.1 79.2,345.0 79.8,351.8 82.0,360.8 83.2,367.5 85.4,370.4 89.9,370.9 90.9,377.9 94.2,385.8 99.5,391.0 106.0,395.0 112.6,401.5 119.2,408.1 125.7,415.3 129.7,417.3 134.9,418.0 140.2,421.2 146.8,427.8 152.0,432.4 158.6,434.4 162.0,436.5 167.8,441.7 175.6,445.6 187.8,448.3 198.9,451.1 210.0,453.3 221.1,455.2 232.2,457.8 241.1,460.3 247.8,460.3 254.4,457.2 261.1,454.4 273.3,452.2 286.7,448.9 297.8,445.6 313.3,442.9 317.8,441.6 319.6,443.3 317.8,445.6 322.2,449.6 331.1,450.4 343.3,450.0 346.7,443.3 352.2,438.4 361.1,438.4 367.8,442.2 374.4,446.7 387.8,448.9 396.7,450.4 410.0,452.7 423.3,451.1 436.7,446.7 447.8,441.1 453.3,436.2 458.9,436.7 460.0,437.3 465.6,432.3 471.3,425.3 474.8,418.3 476.2,414.1 477.2,412.3 478.6,411.6 479.9,412.3 480.4,414.1 480.4,418.3 481.8,428.1 485.3,435.2 488.8,440.8 488.1,445.0 488.1,450.6 490.2,456.3 495.2,461.2 502.2,464.0 510.6,465.0 516.3,465.4 523.3,466.1 530.0,468.1 543.3,469.7 556.7,468.3 563.3,465.0 568.7,461.7 572.7,461.0 583.3,464.3 594.0,467.0 603.3,470.3 610.0,470.3 615.3,469.0 623.3,471.0 631.3,472.3 640.0,472.3 648.0,473.0 653.3,471.0 666.7,467.7 673.3,465.0 681.3,463.7 689.3,457.0 701.3,453.7 704.0,450.3 713.3,443.7 724.0,435.7 733.3,434.3 744.0,433.0 749.3,431.0 754.7,427.0 759.0,426.3" fill="none" stroke="#1a1a1a" stroke-width="1.1" stroke-linejoin="round"/>
</g>
<rect x="53.4" y="24.0" width="705.2" height="478.1" fill="none" stroke="#6a6a6a" stroke-opacity="0.55" stroke-width="1.1"/>
<text x="136.9" y="18.2" text-anchor="middle" font-size="10.5" fill="#1a1a1a">5°W</text>
<text x="305.0" y="18.2" text-anchor="middle" font-size="10.5" fill="#1a1a1a">4°W</text>
<text x="473.1" y="18.2" text-anchor="middle" font-size="10.5" fill="#1a1a1a">3°W</text>
<text x="641.15" y="18.2" text-anchor="middle" font-size="10.5" fill="#1a1a1a">2°W</text>
<text x="49.6" y="154.1" text-anchor="end" font-size="10.5" fill="#1a1a1a">37°N</text>
<text x="49.6" y="322.0" text-anchor="end" font-size="10.5" fill="#1a1a1a">36°N</text>
<text x="49.6" y="489.7" text-anchor="end" font-size="10.5" fill="#1a1a1a">35°N</text>
<rect x="808.4" y="23.50" width="20.0" height="36.42" fill="#A800B4"/>
<rect x="808.4" y="59.92" width="20.0" height="36.42" fill="#E6007E"/>
<rect x="808.4" y="96.34" width="20.0" height="36.42" fill="#FF0000"/>
<rect x="808.4" y="132.76" width="20.0" height="36.42" fill="#FFAA00"/>
<rect x="808.4" y="169.18" width="20.0" height="36.42" fill="#FFD200"/>
<rect x="808.4" y="205.60" width="20.0" height="36.42" fill="#FFFF50"/>
<rect x="808.4" y="242.02" width="20.0" height="36.42" fill="#00FF00"/>
<rect x="808.4" y="278.44" width="20.0" height="36.42" fill="#80F0FF"/>
<rect x="808.4" y="314.86" width="20.0" height="36.42" fill="#CCFFFF"/>
<line x1="808.4" x2="828.4" y1="59.92" y2="59.92" stroke="#222" stroke-width="0.8"/>
<line x1="808.4" x2="828.4" y1="96.34" y2="96.34" stroke="#222" stroke-width="0.8"/>
<line x1="808.4" x2="828.4" y1="132.76" y2="132.76" stroke="#222" stroke-width="0.8"/>
<line x1="808.4" x2="828.4" y1="169.18" y2="169.18" stroke="#222" stroke-width="0.8"/>
<line x1="808.4" x2="828.4" y1="205.60" y2="205.60" stroke="#222" stroke-width="0.8"/>
<line x1="808.4" x2="828.4" y1="242.02" y2="242.02" stroke="#222" stroke-width="0.8"/>
<line x1="808.4" x2="828.4" y1="278.44" y2="278.44" stroke="#222" stroke-width="0.8"/>
<line x1="808.4" x2="828.4" y1="314.86" y2="314.86" stroke="#222" stroke-width="0.8"/>
<rect x="808.4" y="23.5" width="20.0" height="327.78" fill="none" stroke="#222" stroke-width="1"/>
<line x1="828.4" x2="830.1999999999999" y1="23.50" y2="23.50" stroke="#222" stroke-width="0.8"/>
<text x="830.6" y="28.00" font-size="12.5" fill="#1a1a1a">20</text>
<line x1="828.4" x2="830.1999999999999" y1="59.92" y2="59.92" stroke="#222" stroke-width="0.8"/>
<text x="830.6" y="64.42" font-size="12.5" fill="#1a1a1a">14</text>
<line x1="828.4" x2="830.1999999999999" y1="96.34" y2="96.34" stroke="#222" stroke-width="0.8"/>
<text x="830.6" y="100.84" font-size="12.5" fill="#1a1a1a">9</text>
<line x1="828.4" x2="830.1999999999999" y1="132.76" y2="132.76" stroke="#222" stroke-width="0.8"/>
<text x="830.6" y="137.26" font-size="12.5" fill="#1a1a1a">6</text>
<line x1="828.4" x2="830.1999999999999" y1="169.18" y2="169.18" stroke="#222" stroke-width="0.8"/>
<text x="830.6" y="173.68" font-size="12.5" fill="#1a1a1a">4</text>
<line x1="828.4" x2="830.1999999999999" y1="205.60" y2="205.60" stroke="#222" stroke-width="0.8"/>
<text x="830.6" y="210.10" font-size="12.5" fill="#1a1a1a">2.5</text>
<line x1="828.4" x2="830.1999999999999" y1="242.02" y2="242.02" stroke="#222" stroke-width="0.8"/>
<text x="830.6" y="246.52" font-size="12.5" fill="#1a1a1a">1.25</text>
<line x1="828.4" x2="830.1999999999999" y1="278.44" y2="278.44" stroke="#222" stroke-width="0.8"/>
<text x="830.6" y="282.94" font-size="12.5" fill="#1a1a1a">0.5</text>
<line x1="828.4" x2="830.1999999999999" y1="314.86" y2="314.86" stroke="#222" stroke-width="0.8"/>
<text x="830.6" y="319.36" font-size="12.5" fill="#1a1a1a">0.1</text>
<line x1="828.4" x2="830.1999999999999" y1="351.28" y2="351.28" stroke="#222" stroke-width="0.8"/>
<text x="830.6" y="355.78" font-size="12.5" fill="#1a1a1a">0</text>
<text transform="translate(802.8,205.6) rotate(-90)" text-anchor="middle" font-size="12.5" fill="#1a1a1a">Altura (m)</text>
<text x="789.6" y="379.8" font-family="DejaVu Sans, sans-serif" font-size="10.5" fill="#1a1a1a">Mar de viento</text>
<line x1="810" y1="401.4" x2="832" y2="401.4" stroke="#0000FF" stroke-width="2.1"/>
<polygon points="842.6,401.4 830.7,395.6 830.7,407.2" fill="#0000FF"/>
<text x="789.6" y="427.1" font-family="DejaVu Sans, sans-serif" font-size="10.5" fill="#1a1a1a">Mar de fondo</text>
<line x1="810" y1="443.6" x2="832" y2="443.6" stroke="#555" stroke-width="2.1"/>
<polygon points="843,443.6 830.7,437.9 830.7,449.5" fill="#555"/>
<text x="9.6" y="522.4" font-family="Liberation Sans, sans-serif" font-size="18.5" fill="#5B8EE0">©</text>
<text x="27.6" y="520.2" font-family="Liberation Sans, sans-serif" font-size="11.35" fill="#5B8EE0">Agencia Estatal de Meteorología</text>
<text x="804" y="519.2" font-family="Liberation Sans, sans-serif" font-weight="bold" font-size="22.5" fill="#1C4AA6" stroke="#1C4AA6" stroke-width="0.5" textLength="67.6" lengthAdjust="spacingAndGlyphs">aemet</text>
<g fill="#1A42A4"><path d="M777,503.6 L781,502.3 L789,502.8 L795,503.3 L801,504.4 L800,506.6 L797,509 L795.2,512 L794.6,515 L792.2,518 L789,520.2 L785.5,522.2 L783.6,521.2 L782.2,517 L781.6,512 L780.6,508 L778,506.2 Z"/><circle cx="778.8" cy="520.7" r="1.25"/><circle cx="798.9" cy="511.9" r="1.25"/></g>
<g fill="none" stroke="#fff" stroke-width="0.85"><path d="M779.3,506 C782,505 786,504.8 789,505.6 C792,506.4 794.5,507.6 797,509"/><ellipse cx="785.3" cy="510.6" rx="2.5" ry="1.9"/><path d="M781.5,508 C783,506.8 787,506.6 789.5,508 C791.5,509.2 791.5,512 789.5,513.3 C787.5,514.5 784,514.3 782.2,513.5"/><path d="M782.2,515.3 C786,515.2 790,514.8 794.6,513.6"/><path d="M782.8,518.2 C786,517.9 789,517.4 792.2,516.5"/><path d="M789.3,503 L793.5,507.2"/></g>
</svg></body></html>
